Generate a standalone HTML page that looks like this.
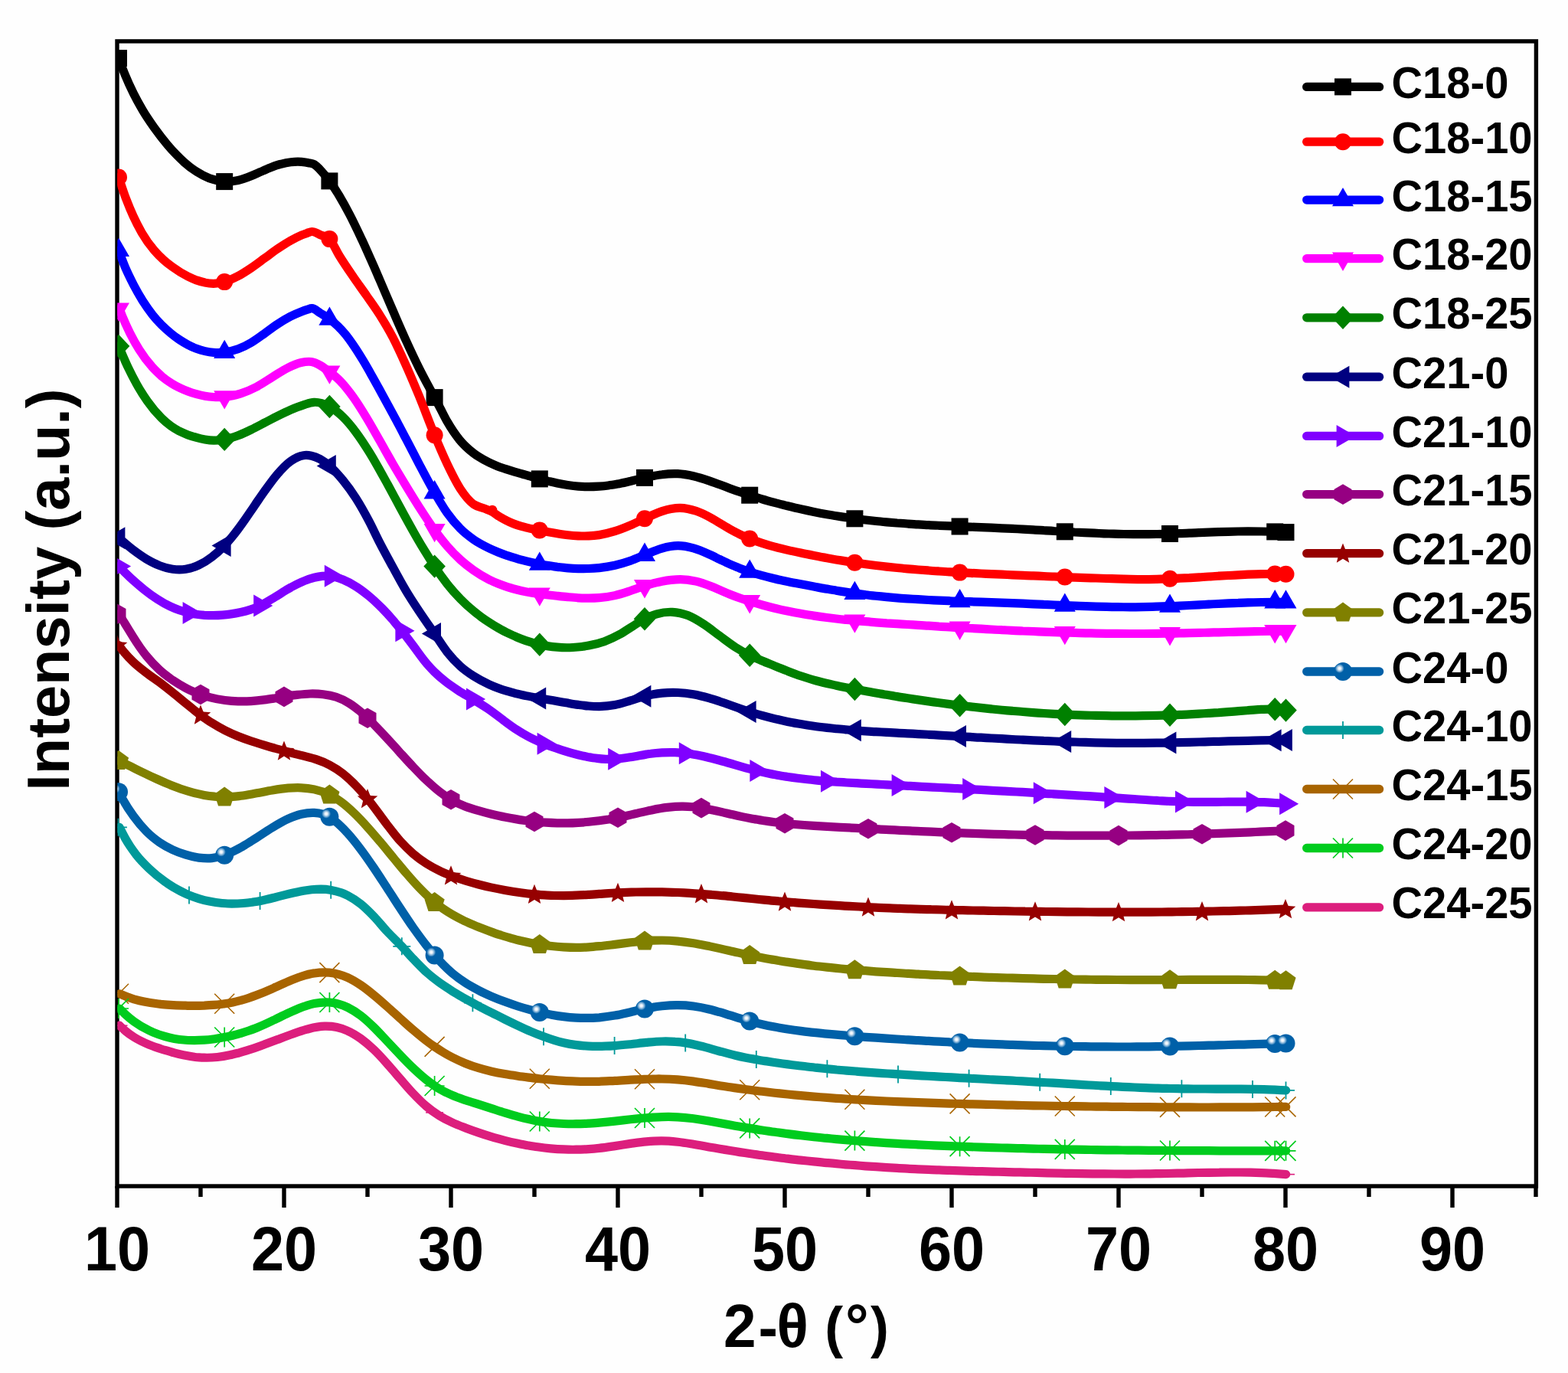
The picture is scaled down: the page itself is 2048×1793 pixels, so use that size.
<!DOCTYPE html>
<html lang="en"><head><meta charset="utf-8"><title>XRD patterns</title>
<style>html,body{margin:0;padding:0;background:#fefefe}body{width:2048px;height:1793px;overflow:hidden}svg{display:block}text{font-family:"Liberation Sans",Arial,Helvetica,sans-serif;font-weight:bold;fill:#000}</style>
</head><body>
<svg width="2048" height="1793" viewBox="0 0 2048 1793">
<defs>
<rect id="m-square" x="-11" y="-11" width="22" height="22"/>
<circle id="m-circle" r="11"/>
<polygon id="m-tri_up" points="0,-16.2 14,8.1 -14,8.1"/>
<polygon id="m-tri_down" points="0,16.2 14,-8.1 -14,-8.1"/>
<polygon id="m-diamond" points="0,-15.2 14.3,0 0,15.2 -14.3,0"/>
<polygon id="m-tri_left" points="-16.7,0 8.4,-14.5 8.4,14.5"/>
<polygon id="m-tri_right" points="16.7,0 -8.4,-14.5 -8.4,14.5"/>
<polygon id="m-hexagon" points="0,-13.3 11.5,-6.7 11.5,6.6 0,13.3 -11.5,6.7 -11.5,-6.7"/>
<polygon id="m-star" points="0,-13.2 3.6,-4.2 13.3,-3.5 5.9,2.7 8.2,12.1 0,7 -8.2,12.1 -5.9,2.7 -13.3,-3.5 -3.6,-4.2"/>
<polygon id="m-pentagon" points="0,-13.3 13.1,-3.8 8.1,11.7 -8.1,11.7 -13.1,-3.8"/>
<radialGradient id="sph" cx="0.32" cy="0.33" r="0.25" fx="0.32" fy="0.33"><stop offset="0" stop-color="#ffffff"/><stop offset="0.3" stop-color="#e4eef7"/><stop offset="0.65" stop-color="#7aaed6"/><stop offset="1" stop-color="#0060a8"/></radialGradient>
<circle id="m-sphere" r="12" fill="url(#sph)"/>
<path id="m-plus" d="M0 -11.5V11.5M-11.5 0H11.5" fill="none" stroke-width="1.8"/>
<path id="m-cross" d="M-13 -13L13 13M13 -13L-13 13" fill="none" stroke-width="1.5"/>
<path id="m-asterisk" d="M-13 -13L13 13M13 -13L-13 13M0 -13V13M-13 0H13" fill="none" stroke-width="1.7"/>
<path id="m-hline" d="M-11.5 0H11.5" fill="none" stroke-width="1.6"/>
<clipPath id="plot"><rect x="153.3" y="53.9" width="1853.4" height="1495.1"/></clipPath>
</defs>
<rect width="2048" height="1793" fill="#fefefe"/>
<g stroke="#000" stroke-width="5.4" fill="none" stroke-linecap="butt">
<rect x="153" y="53.9" width="1853.4" height="1495.1"/>
<path d="M153 1549v28M262 1549v14M371 1549v28M480 1549v14M589 1549v28M698 1549v14M807 1549v28M916 1549v14M1025 1549v28M1134 1549v14M1243 1549v28M1352 1549v14M1461 1549v28M1570 1549v14M1679 1549v28M1788 1549v14M1897 1549v28M2006 1549v14"/>
</g>
<g clip-path="url(#plot)">
<g>
<path d="M155 76C157.8 83.3 160.6 91.1 163.4 97.9C167.1 107 170.9 115.1 174.6 122.6C178.5 130.4 182.4 137.3 186.3 143.9C191.3 152.4 196.4 159.7 201.4 166.8C207.2 174.9 212.9 182.3 218.7 189.1C222.3 193.4 225.9 197.4 229.6 201.2C233.2 204.9 236.8 208.5 240.4 211.7C245.8 216.5 251.2 220.7 256.6 224.1C262.2 227.7 267.7 230.6 273.3 232.8C280.1 235.3 286.9 236.8 293.7 237.1C299.5 237.4 305.2 236.8 311 235.5C316.7 234.3 322.3 232.1 328 229.8C332.3 228.1 336.6 226 340.9 224.2C345.1 222.3 349.4 220.3 353.7 218.7C358.1 217 362.4 215.4 366.8 214.3C371.1 213.1 375.4 212.2 379.8 211.7C384.5 211.1 389.3 210.9 394 211.3C397 211.6 400 212 403 212.7C405.4 213.2 407.9 213.3 410.3 214.7C413.5 216.5 416.8 220.2 420 223.7C423.4 227.3 426.8 231.5 430.2 236.1C434.5 241.9 438.7 248.4 443 255.5C447.5 263 452.1 271.3 456.6 280C462.1 290.5 467.5 302 473 313.7C476.8 321.9 480.6 330.5 484.4 339.1C488.3 347.7 492.1 356.6 495.9 365.4C501.6 378.6 507.3 392.1 513 405.3C518.7 418.4 524.4 431.7 530.1 444.2C535.8 456.7 541.5 468.9 547.2 480.4C554 494.1 560.8 506.2 567.6 519.1C570.1 523.8 572.5 528.5 575 533.2C578.1 539 581.1 545.4 584.2 550.7C589.5 559.9 594.7 567.6 600 574.1C606.1 581.7 612.3 587 618.4 591.7C620.6 593.4 622.8 594.9 625 596.3C629.6 599.3 634.3 601.8 638.9 604.1C642.4 605.8 645.9 607.3 649.5 608.7C653 610.1 656.5 611.2 660 612.4C666.7 614.7 673.3 616.5 680 618.4C684.1 619.6 688.2 620.8 692.3 621.9C696.4 623.1 700.5 624.3 704.6 625.4C708.5 626.4 712.3 627.4 716.2 628.4C720.1 629.3 723.9 630.2 727.8 631C732.4 632 736.9 632.8 741.5 633.5C746.1 634.2 750.6 634.8 755.2 635.1C759.8 635.5 764.3 635.7 768.9 635.7C773.5 635.7 778 635.5 782.6 635.2C786.6 634.9 790.6 634.5 794.5 634C798.5 633.5 802.5 632.8 806.5 632.1C812.3 631 818.1 629.6 824 628.3C829.8 626.9 835.6 625.4 841.4 624C845.3 623.2 849.1 622.3 853 621.5C856.9 620.8 860.7 620.1 864.6 619.7C871.5 618.8 878.3 618.4 885.2 618.7C892 619.1 898.9 620.3 905.7 621.8C912.5 623.4 919.4 625.6 926.2 627.9C930.8 629.4 935.3 631.2 939.9 632.8C944.5 634.5 949 636.2 953.6 637.9C957.9 639.5 962.1 641 966.4 642.4C970.7 643.9 974.9 645.3 979.2 646.7C984.6 648.5 990 650.1 995.5 651.8C1000.9 653.4 1006.3 654.9 1011.7 656.4C1017.4 657.9 1023.1 659.4 1028.8 660.8C1034.5 662.2 1040.2 663.6 1045.9 664.8C1051.6 666.1 1057.3 667.3 1063 668.4C1068.7 669.6 1074.4 670.7 1080.1 671.7C1084.2 672.4 1088.2 673.1 1092.3 673.7C1096.4 674.4 1100.4 675 1104.5 675.6C1108.6 676.2 1112.6 676.8 1116.7 677.3C1121.3 677.9 1125.9 678.5 1130.5 679C1135 679.5 1139.6 680 1144.2 680.5C1148.8 681 1153.4 681.4 1158 681.8C1162.6 682.2 1167.2 682.6 1171.7 683C1176.3 683.3 1180.9 683.6 1185.5 684C1190.1 684.3 1194.6 684.6 1199.2 684.8C1203.7 685.1 1208.3 685.4 1212.9 685.6C1217.4 685.9 1222 686.1 1226.5 686.3C1231.1 686.5 1235.7 686.7 1240.2 686.9C1244.8 687.1 1249.3 687.3 1253.9 687.5C1258.5 687.7 1263 687.9 1267.6 688.1C1272.1 688.2 1276.7 688.4 1281.3 688.6C1285.8 688.8 1290.4 689 1294.9 689.2C1299.5 689.4 1304.1 689.6 1308.6 689.8C1313.2 690 1317.7 690.2 1322.3 690.4C1326.9 690.6 1331.4 690.9 1336 691.1C1340.5 691.4 1345.1 691.6 1349.7 691.9C1354.2 692.1 1358.8 692.4 1363.3 692.7C1367.9 692.9 1372.5 693.2 1377 693.5C1381.6 693.7 1386.1 694 1390.7 694.3C1395 694.5 1399.2 694.7 1403.5 695C1407.8 695.2 1412.1 695.4 1416.3 695.6C1420.6 695.8 1424.9 696 1429.2 696.2C1433.5 696.4 1437.7 696.6 1442 696.8C1446.3 696.9 1450.5 697.1 1454.8 697.2C1459.1 697.3 1463.4 697.4 1467.7 697.5C1471.9 697.6 1476.2 697.6 1480.5 697.7C1484.8 697.7 1489 697.7 1493.3 697.7C1499.1 697.7 1504.9 697.6 1510.8 697.5C1516.6 697.4 1522.4 697.2 1528.2 697C1532.4 696.9 1536.6 696.8 1540.8 696.6C1545.1 696.5 1549.3 696.3 1553.5 696.1C1557.7 696 1561.9 695.8 1566.2 695.6C1570.4 695.5 1574.6 695.3 1578.8 695.2C1583.1 695 1587.3 694.9 1591.6 694.7C1595.9 694.6 1600.2 694.4 1604.4 694.3C1608.7 694.2 1613 694.1 1617.3 694C1621.5 694 1625.8 693.9 1630.1 693.9C1635.9 693.9 1641.7 693.9 1647.5 694C1653.4 694 1659.2 694.2 1665 694.4C1669.9 694.6 1674.8 694.9 1679.7 695.1" fill="none" stroke="#000000" stroke-width="11.2" stroke-linecap="round" stroke-linejoin="round"/>
<use href="#m-square" x="155" y="76" fill="#000000"/>
<use href="#m-square" x="293.2" y="237.1" fill="#000000"/>
<use href="#m-square" x="430.4" y="236.4" fill="#000000"/>
<use href="#m-square" x="567.6" y="519.1" fill="#000000"/>
<use href="#m-square" x="704.8" y="625.4" fill="#000000"/>
<use href="#m-square" x="842" y="623.9" fill="#000000"/>
<use href="#m-square" x="979.2" y="646.7" fill="#000000"/>
<use href="#m-square" x="1116.4" y="677.3" fill="#000000"/>
<use href="#m-square" x="1253.6" y="687.5" fill="#000000"/>
<use href="#m-square" x="1390.8" y="694.3" fill="#000000"/>
<use href="#m-square" x="1528" y="697" fill="#000000"/>
<use href="#m-square" x="1665.2" y="694.4" fill="#000000"/>
<use href="#m-square" x="1679.5" y="695.1" fill="#000000"/>
</g>
<g>
<path d="M155 231.5C158.2 240.8 161.3 250.8 164.5 259.3C167.7 267.7 170.8 275.2 174 282.2C177.7 290.4 181.5 297.4 185.2 303.9C190.6 313.2 196 320.5 201.4 326.9C205.3 331.5 209.2 335.3 213.1 338.9C217 342.5 220.9 345.5 224.8 348.3C231.7 353.4 238.5 357.6 245.4 361C249.1 362.9 252.9 364.5 256.6 365.9C260.3 367.2 264.1 368.4 267.8 369.1C271.5 369.9 275.2 370.3 278.9 370.3C283.6 370.2 288.3 369.4 293 368.1C299 366.5 304.9 363.7 310.9 360.6C316.6 357.6 322.3 353.8 328 350C333.7 346.2 339.4 341.8 345.1 337.6C350.8 333.5 356.5 329.1 362.2 325.2C367.9 321.4 373.6 317.6 379.3 314.4C384.3 311.6 389.3 309 394.3 306.9C396.5 306 398.8 305.2 401 304.4C403.1 303.7 405.3 302.6 407.4 302.5C411.1 302.3 414.8 305.2 418.5 306.7C422.4 308.3 426.3 307.9 430.2 311.9C434.6 316.4 439 327.2 443.4 334.3C449.5 344.2 455.6 353 461.7 361.9C467.4 370.2 473.1 377.9 478.8 386.1C484.5 394.3 490.2 402 495.9 411.1C501.6 420.2 507.3 429.6 513 440.5C518.7 451.5 524.4 464 530.1 476.7C535.8 489.4 541.5 502.9 547.2 516.7C554 533.2 560.8 551.9 567.6 568.2C573.1 581.5 578.7 594.6 584.2 606.2C589.9 618.1 595.6 629.8 601.3 638.5C607 647.2 612.7 654.1 618.4 658.4C623 661.7 627.5 662 632.1 663.9C635.3 665.2 638.5 666.1 641.7 667.7C645.3 669.6 649 672.6 652.6 674.8C658.3 678.1 664 681.2 669.7 683.5C675.4 685.9 681.1 687.3 686.8 688.8C692.7 690.4 698.7 691.3 704.6 692.5C708.5 693.3 712.3 694 716.2 694.7C720.1 695.4 723.9 696.1 727.8 696.7C732.4 697.5 736.9 698.1 741.5 698.7C746.1 699.2 750.6 699.6 755.2 699.8C759.8 700 764.3 700.1 768.9 699.9C773.5 699.7 778 699.3 782.6 698.6C789.4 697.5 796.3 695.8 803.1 693.7C809.9 691.6 816.8 688.8 823.6 685.9C829.5 683.3 835.5 680.2 841.4 677.5C845.3 675.7 849.1 673.8 853 672.2C856.9 670.5 860.7 668.9 864.6 667.6C868.6 666.3 872.6 665.1 876.6 664.4C880.6 663.7 884.6 663.2 888.6 663.3C895.4 663.4 902.3 665 909.1 667.3C915.9 669.5 922.8 673.1 929.6 676.9C933.6 679.1 937.6 681.6 941.6 684C945.6 686.4 949.6 688.9 953.6 691.1C957.9 693.5 962.1 695.8 966.4 697.8C970.7 699.9 974.9 701.7 979.2 703.5C984.6 705.7 990 707.6 995.5 709.4C1000.9 711.2 1006.3 712.8 1011.7 714.2C1017.4 715.8 1023.1 717.1 1028.8 718.4C1034.5 719.7 1040.2 720.9 1045.9 722.1C1051.6 723.3 1057.3 724.4 1063 725.5C1068.7 726.6 1074.4 727.7 1080.1 728.7C1084.2 729.5 1088.2 730.2 1092.3 730.9C1096.4 731.6 1100.4 732.2 1104.5 732.9C1108.6 733.5 1112.6 734.2 1116.7 734.8C1121.3 735.4 1125.9 736.1 1130.5 736.7C1135 737.3 1139.6 737.9 1144.2 738.5C1148.8 739 1153.4 739.6 1158 740.1C1162.6 740.6 1167.2 741 1171.7 741.5C1176.3 742 1180.9 742.4 1185.5 742.8C1190.1 743.2 1194.6 743.6 1199.2 744C1203.7 744.3 1208.3 744.7 1212.9 745C1217.4 745.4 1222 745.7 1226.5 746C1231.1 746.3 1235.7 746.6 1240.2 746.8C1244.8 747.1 1249.3 747.4 1253.9 747.6C1258.5 747.9 1263 748.1 1267.6 748.3C1272.1 748.6 1276.7 748.8 1281.3 749C1285.8 749.2 1290.4 749.4 1294.9 749.6C1299.5 749.8 1304.1 750 1308.6 750.2C1313.2 750.4 1317.7 750.6 1322.3 750.8C1326.9 751 1331.4 751.2 1336 751.4C1340.5 751.6 1345.1 751.8 1349.7 751.9C1354.2 752.1 1358.8 752.3 1363.3 752.5C1367.9 752.7 1372.5 752.9 1377 753C1381.6 753.2 1386.1 753.4 1390.7 753.6C1395.3 753.7 1399.8 753.9 1404.4 754.1C1408.9 754.3 1413.5 754.4 1418.1 754.6C1422.6 754.7 1427.2 754.9 1431.7 755C1436.3 755.2 1440.9 755.3 1445.4 755.5C1450 755.6 1454.5 755.8 1459.1 755.9C1464.8 756.1 1470.5 756.2 1476.2 756.4C1481.9 756.5 1487.6 756.6 1493.3 756.6C1499.1 756.6 1504.9 756.5 1510.8 756.4C1516.6 756.2 1522.4 756.1 1528.2 755.8C1532.4 755.7 1536.6 755.5 1540.8 755.2C1545.1 755 1549.3 754.8 1553.5 754.6C1557.7 754.3 1561.9 754.1 1566.2 753.8C1570.4 753.6 1574.6 753.3 1578.8 753C1583.1 752.8 1587.3 752.5 1591.6 752.2C1595.9 752 1600.2 751.7 1604.4 751.5C1608.7 751.2 1613 751 1617.3 750.8C1621.5 750.6 1625.8 750.4 1630.1 750.2C1635.9 750 1641.7 749.8 1647.5 749.7C1653.4 749.6 1659.2 749.5 1665 749.5C1669.9 749.5 1674.8 749.6 1679.7 749.7" fill="none" stroke="#ff0000" stroke-width="11.2" stroke-linecap="round" stroke-linejoin="round"/>
<use href="#m-circle" x="155" y="231.5" fill="#ff0000"/>
<use href="#m-circle" x="293.2" y="368.1" fill="#ff0000"/>
<use href="#m-circle" x="430.4" y="312.1" fill="#ff0000"/>
<use href="#m-circle" x="567.6" y="568.2" fill="#ff0000"/>
<use href="#m-circle" x="704.8" y="692.5" fill="#ff0000"/>
<use href="#m-circle" x="842" y="677.2" fill="#ff0000"/>
<use href="#m-circle" x="979.2" y="703.5" fill="#ff0000"/>
<use href="#m-circle" x="1116.4" y="734.7" fill="#ff0000"/>
<use href="#m-circle" x="1253.6" y="747.6" fill="#ff0000"/>
<use href="#m-circle" x="1390.8" y="753.6" fill="#ff0000"/>
<use href="#m-circle" x="1528" y="755.8" fill="#ff0000"/>
<use href="#m-circle" x="1665.2" y="749.5" fill="#ff0000"/>
<use href="#m-circle" x="1679.5" y="749.7" fill="#ff0000"/>
<circle cx="643" cy="666" r="6.3" fill="#ff0000"/>
</g>
<g>
<path d="M155 327C157.6 333.9 160.3 341.3 162.9 347.7C166.8 357.1 170.7 364.7 174.6 372.3C178.5 379.8 182.4 386.5 186.3 392.8C190.6 399.6 194.8 405.5 199.1 410.9C203.1 416 207.1 420.3 211.1 424.4C215.1 428.4 219.1 431.9 223.1 435.2C226.8 438.3 230.5 441 234.2 443.5C238 446 241.7 448.2 245.4 450.2C249.1 452.2 252.9 453.8 256.6 455.3C260.3 456.7 264.1 457.8 267.8 458.6C271.5 459.5 275.2 460.1 278.9 460.3C283.7 460.7 288.5 460.6 293.3 460C299.2 459.3 305 457.9 310.9 455.8C316.6 453.7 322.3 450.9 328 447.5C333.7 444.2 339.4 439.8 345.1 435.8C350.8 431.8 356.5 427.2 362.2 423.5C367.9 419.7 373.6 416.3 379.3 413.3C384.3 410.8 389.3 408.6 394.3 406.7C396.5 405.9 398.8 405.1 401 404.4C403.1 403.8 405.3 402.5 407.4 402.6C411.1 402.7 414.8 406.8 418.5 409C422.4 411.4 426.3 413.5 430.2 416.4C437.2 421.6 444.1 427.9 451.1 436.5C454.9 441.2 458.8 446.7 462.6 452.4C466.5 458.1 470.3 464.3 474.2 470.7C477.8 476.7 481.4 483 485 489.4C488.7 495.8 492.3 502.4 495.9 509C501.6 519.4 507.3 529.8 513 540.4C515.3 544.8 517.7 549.1 520 553.5C523.4 559.8 526.7 566.2 530.1 572.7C533.4 579 536.7 585.4 540 591.7C542.4 596.3 544.8 601 547.2 605.6C554 618.5 560.8 631.6 567.6 643.3C571.7 650.5 575.9 657.5 580 663.8C581.4 665.9 582.8 668 584.2 670C589.9 678.1 595.6 684.6 601.3 690.4C607 696.1 612.7 700.4 618.4 704.5C625.2 709.3 632.1 712.7 638.9 716C642.9 717.9 646.9 719.6 650.9 721.2C654.9 722.8 658.9 724.3 662.9 725.7C666.9 727 670.9 728.3 674.8 729.4C678.8 730.6 682.8 731.6 686.8 732.6C692.7 734.1 698.7 735.4 704.6 736.5C708.5 737.3 712.3 738 716.2 738.6C720.1 739.3 723.9 739.8 727.8 740.4C732.4 740.9 736.9 741.5 741.5 741.8C746.1 742.2 750.6 742.5 755.2 742.6C759.8 742.7 764.3 742.7 768.9 742.5C773.5 742.4 778 742.1 782.6 741.6C789.4 740.8 796.3 739.7 803.1 738.2C809.9 736.6 816.8 734.6 823.6 732.2C829.5 730.1 835.5 727.4 841.4 725C845.3 723.4 849.1 721.7 853 720.2C856.9 718.8 860.7 717.3 864.6 716.2C871.5 714.2 878.3 712.7 885.2 712.7C892 712.6 898.9 714 905.7 715.9C912.5 717.7 919.4 720.8 926.2 723.9C930.8 725.9 935.3 728.2 939.9 730.4C944.5 732.6 949 734.8 953.6 736.9C957.9 738.7 962.1 740.5 966.4 742.2C970.7 743.8 974.9 745.3 979.2 746.7C984.6 748.5 990 750.1 995.5 751.6C1000.9 753.1 1006.3 754.4 1011.7 755.7C1017.4 757.1 1023.1 758.3 1028.8 759.4C1034.5 760.6 1040.2 761.7 1045.9 762.8C1051.6 763.9 1057.3 765 1063 766.1C1068.7 767.1 1074.4 768.2 1080.1 769.1C1084.2 769.9 1088.2 770.5 1092.3 771.2C1096.4 771.9 1100.4 772.5 1104.5 773.1C1108.6 773.8 1112.6 774.4 1116.7 774.9C1121.3 775.5 1125.9 776.1 1130.5 776.7C1135 777.3 1139.6 777.8 1144.2 778.3C1148.8 778.7 1153.4 779.2 1158 779.6C1162.6 780 1167.2 780.4 1171.7 780.8C1176.3 781.2 1180.9 781.5 1185.5 781.8C1190.1 782.1 1194.6 782.4 1199.2 782.7C1203.7 783 1208.3 783.2 1212.9 783.5C1217.4 783.7 1222 783.9 1226.5 784.1C1231.1 784.3 1235.7 784.5 1240.2 784.7C1244.8 784.9 1249.3 785.1 1253.9 785.2C1258.5 785.4 1263 785.6 1267.6 785.7C1272.1 785.9 1276.7 786 1281.3 786.2C1285.8 786.3 1290.4 786.5 1294.9 786.6C1299.5 786.8 1304.1 786.9 1308.6 787.1C1313.2 787.3 1317.7 787.4 1322.3 787.6C1326.9 787.8 1331.4 788 1336 788.2C1340.5 788.4 1345.1 788.6 1349.7 788.8C1354.2 789 1358.8 789.2 1363.3 789.4C1367.9 789.6 1372.5 789.8 1377 790C1381.6 790.2 1386.1 790.4 1390.7 790.6C1395.3 790.8 1399.8 791 1404.4 791.2C1408.9 791.3 1413.5 791.5 1418.1 791.7C1422.6 791.8 1427.2 792 1431.7 792.1C1436.3 792.2 1440.9 792.3 1445.4 792.4C1450 792.5 1454.5 792.6 1459.1 792.7C1464.8 792.7 1470.5 792.8 1476.2 792.8C1481.9 792.8 1487.6 792.7 1493.3 792.6C1499.1 792.6 1504.9 792.4 1510.8 792.2C1516.6 792.1 1522.4 791.9 1528.2 791.6C1532.4 791.5 1536.6 791.3 1540.8 791.1C1545.1 790.9 1549.3 790.7 1553.5 790.5C1557.7 790.3 1561.9 790 1566.2 789.8C1570.4 789.6 1574.6 789.4 1578.8 789.2C1583.1 788.9 1587.3 788.7 1591.6 788.5C1595.9 788.3 1600.2 788.1 1604.4 787.9C1608.7 787.7 1613 787.5 1617.3 787.4C1621.5 787.2 1625.8 787 1630.1 786.9C1635.9 786.7 1641.7 786.6 1647.5 786.5C1653.4 786.4 1659.2 786.3 1665 786.3C1669.9 786.3 1674.8 786.4 1679.7 786.4" fill="none" stroke="#0000ff" stroke-width="11.2" stroke-linecap="round" stroke-linejoin="round"/>
<use href="#m-tri_up" x="155" y="327" fill="#0000ff"/>
<use href="#m-tri_up" x="293.2" y="460" fill="#0000ff"/>
<use href="#m-tri_up" x="430.4" y="416.6" fill="#0000ff"/>
<use href="#m-tri_up" x="567.6" y="643.3" fill="#0000ff"/>
<use href="#m-tri_up" x="704.8" y="736.6" fill="#0000ff"/>
<use href="#m-tri_up" x="842" y="724.8" fill="#0000ff"/>
<use href="#m-tri_up" x="979.2" y="746.7" fill="#0000ff"/>
<use href="#m-tri_up" x="1116.4" y="774.9" fill="#0000ff"/>
<use href="#m-tri_up" x="1253.6" y="785.2" fill="#0000ff"/>
<use href="#m-tri_up" x="1390.8" y="790.6" fill="#0000ff"/>
<use href="#m-tri_up" x="1528" y="791.6" fill="#0000ff"/>
<use href="#m-tri_up" x="1665.2" y="786.3" fill="#0000ff"/>
<use href="#m-tri_up" x="1679.5" y="786.4" fill="#0000ff"/>
</g>
<g>
<path d="M156 403.5C157.2 406.4 158.3 409.4 159.5 412.3C162.9 420.5 166.2 427.8 169.6 434.7C173.7 442.9 177.7 450 181.8 456.5C187.6 465.8 193.3 473.1 199.1 479.6C203.3 484.3 207.5 488.1 211.6 491.7C215.8 495.2 220 498.1 224.2 500.7C227.7 502.9 231.3 504.8 234.8 506.5C238.3 508.2 241.9 509.7 245.4 511C249.1 512.4 252.9 513.7 256.6 514.7C260.3 515.7 264.1 516.6 267.8 517.2C271.5 517.9 275.2 518.3 278.9 518.5C283.7 518.8 288.5 518.7 293.3 518.3C296.9 518 300.4 517.4 304 516.7C307.5 516 311.1 515 314.6 513.9C321.5 511.7 328.3 508.7 335.2 505.1C342 501.5 348.9 496.7 355.7 492.5C362.5 488.4 369.4 483.5 376.2 480.2C381.9 477.4 387.6 474.7 393.3 473.5C397.9 472.5 402.4 471.8 407 472.5C414.7 473.7 422.5 479.8 430.2 485.5C435 489.1 439.8 492.8 444.6 497.8C450.3 503.7 456 511.1 461.7 519C467.4 527 473.1 536.2 478.8 545.6C484.5 555 490.2 565.3 495.9 575.3C501.6 585.3 507.3 595.7 513 605.5C518.7 615.3 524.4 624.7 530.1 634.1C535.8 643.5 541.5 652.8 547.2 661.7C554 672.3 560.8 682.8 567.6 692.1C573.1 699.7 578.7 707 584.2 713.4C589.9 720 595.6 725.8 601.3 731C607 736.2 612.7 740.6 618.4 744.6C625.2 749.5 632.1 753.4 638.9 756.9C642.9 758.9 646.9 760.7 650.9 762.3C654.9 763.9 658.9 765.3 662.9 766.6C666.9 767.9 670.9 769 674.8 770C678.8 771 682.8 771.9 686.8 772.7C692.7 773.9 698.7 774.8 704.6 775.6C708.5 776.1 712.3 776.6 716.2 777C720.1 777.5 723.9 777.9 727.8 778.3C732.4 778.8 736.9 779.3 741.5 779.7C746.1 780.1 750.6 780.5 755.2 780.8C759.8 781 764.3 781.2 768.9 781.2C773.5 781.2 778 781.1 782.6 780.7C789.4 780.1 796.3 779.1 803.1 777.6C809.9 776.1 816.8 773.7 823.6 771.5C829.5 769.5 835.5 767.2 841.4 765.4C845.3 764.1 849.1 762.9 853 761.9C856.9 760.9 860.7 759.9 864.6 759.2C868.6 758.4 872.6 757.8 876.6 757.4C880.6 757 884.6 756.7 888.6 756.7C895.4 756.8 902.3 757.6 909.1 759.1C915.9 760.6 922.8 763.3 929.6 766C933.6 767.5 937.6 769.4 941.6 771.1C945.6 772.8 949.6 774.6 953.6 776.2C957.9 777.9 962.1 779.5 966.4 781C970.7 782.5 974.9 783.9 979.2 785.2C984.6 786.9 990 788.5 995.5 790C1000.9 791.5 1006.3 792.9 1011.7 794.2C1017.4 795.6 1023.1 796.8 1028.8 798C1034.5 799.2 1040.2 800.3 1045.9 801.3C1051.6 802.3 1057.3 803.3 1063 804.1C1068.7 805 1074.4 805.8 1080.1 806.5C1084.2 807.1 1088.2 807.6 1092.3 808C1096.4 808.5 1100.4 808.9 1104.5 809.4C1108.6 809.8 1112.6 810.2 1116.7 810.5C1121.3 811 1125.9 811.4 1130.5 811.7C1135 812.1 1139.6 812.5 1144.2 812.8C1148.8 813.1 1153.4 813.5 1158 813.8C1162.6 814.1 1167.2 814.4 1171.7 814.7C1176.3 815 1180.9 815.2 1185.5 815.5C1190.1 815.8 1194.6 816.1 1199.2 816.4C1203.7 816.7 1208.3 817 1212.9 817.2C1217.4 817.5 1222 817.8 1226.5 818.1C1231.1 818.3 1235.7 818.6 1240.2 818.9C1244.8 819.2 1249.3 819.4 1253.9 819.7C1258.5 820 1263 820.2 1267.6 820.5C1272.1 820.7 1276.7 821 1281.3 821.2C1285.8 821.5 1290.4 821.7 1294.9 822C1299.5 822.2 1304.1 822.4 1308.6 822.7C1313.2 822.9 1317.7 823.1 1322.3 823.3C1326.9 823.5 1331.4 823.7 1336 824C1340.5 824.2 1345.1 824.3 1349.7 824.5C1354.2 824.7 1358.8 824.9 1363.3 825.1C1367.9 825.3 1372.5 825.4 1377 825.6C1381.6 825.7 1386.1 825.9 1390.7 826C1395.3 826.2 1399.8 826.3 1404.4 826.4C1408.9 826.6 1413.5 826.7 1418.1 826.8C1422.6 826.9 1427.2 827 1431.7 827.1C1436.3 827.1 1440.9 827.2 1445.4 827.3C1450 827.3 1454.5 827.4 1459.1 827.4C1464.8 827.5 1470.5 827.5 1476.2 827.5C1481.9 827.5 1487.6 827.5 1493.3 827.5C1499.1 827.5 1504.9 827.4 1510.8 827.4C1516.6 827.3 1522.4 827.2 1528.2 827.2C1532.4 827.1 1536.6 827 1540.8 826.9C1545.1 826.9 1549.3 826.8 1553.5 826.7C1557.7 826.6 1561.9 826.5 1566.2 826.4C1570.4 826.3 1574.6 826.2 1578.8 826.1C1583.1 826 1587.3 825.9 1591.6 825.8C1595.9 825.7 1600.2 825.6 1604.4 825.5C1608.7 825.4 1613 825.2 1617.3 825.1C1621.5 825 1625.8 824.9 1630.1 824.8C1635.9 824.7 1641.7 824.6 1647.5 824.5C1653.4 824.4 1659.2 824.3 1665 824.2C1669.9 824.1 1674.8 824.1 1679.7 824" fill="none" stroke="#ff00ff" stroke-width="11.2" stroke-linecap="round" stroke-linejoin="round"/>
<use href="#m-tri_down" x="155" y="403.5" fill="#ff00ff"/>
<use href="#m-tri_down" x="293.2" y="518.3" fill="#ff00ff"/>
<use href="#m-tri_down" x="430.4" y="485.6" fill="#ff00ff"/>
<use href="#m-tri_down" x="567.6" y="692.1" fill="#ff00ff"/>
<use href="#m-tri_down" x="704.8" y="775.6" fill="#ff00ff"/>
<use href="#m-tri_down" x="842" y="765.2" fill="#ff00ff"/>
<use href="#m-tri_down" x="979.2" y="785.2" fill="#ff00ff"/>
<use href="#m-tri_down" x="1116.4" y="810.5" fill="#ff00ff"/>
<use href="#m-tri_down" x="1253.6" y="819.7" fill="#ff00ff"/>
<use href="#m-tri_down" x="1390.8" y="826" fill="#ff00ff"/>
<use href="#m-tri_down" x="1528" y="827.2" fill="#ff00ff"/>
<use href="#m-tri_down" x="1665.2" y="824.2" fill="#ff00ff"/>
<use href="#m-tri_down" x="1679.5" y="824" fill="#ff00ff"/>
</g>
<g>
<path d="M155 452C159.1 461.3 163.2 471.3 167.3 479.9C171 487.7 174.8 494.9 178.5 501.6C183.1 509.8 187.8 517.2 192.4 523.8C198.5 532.5 204.7 539.8 210.8 545.8C214.9 549.9 219 553.3 223.1 556.3C226.8 559 230.5 561.1 234.2 563.1C238 565 241.7 566.5 245.4 567.9C249.1 569.3 252.9 570.4 256.6 571.4C260.3 572.5 264.1 573.4 267.8 574C271.5 574.6 275.2 575.1 278.9 575.2C283.7 575.3 288.5 574.8 293.3 573.9C299.2 572.8 305 570.9 310.9 568.7C316.6 566.6 322.3 563.9 328 561.1C333.7 558.4 339.4 555.3 345.1 552.3C350.8 549.4 356.5 546.3 362.2 543.4C367.9 540.6 373.6 537.8 379.3 535.3C385 532.9 390.7 530.6 396.4 528.8C401 527.4 405.5 525.5 410.1 525.3C416.8 525 423.4 527.2 430.1 530.8C436 533.9 441.8 538.6 447.7 544.3C453.4 549.8 459.1 556.7 464.8 564.3C470.5 571.9 476.2 580.6 481.9 589.8C484.6 594.1 487.3 598.7 490 603.3C495.4 612.6 500.8 622.5 506.2 632.3C511.9 642.7 517.6 653.6 523.3 664C529 674.4 534.7 684.9 540.4 694.9C544.9 702.9 549.5 710.7 554 718.2C558.5 725.6 563.1 732.9 567.6 739.6C573.1 747.9 578.7 755.7 584.2 762.7C589.9 769.9 595.6 776.3 601.3 782.1C607 788 612.7 793.1 618.4 797.8C622 800.8 625.6 803.5 629.2 806.2C632.8 808.8 636.4 811.2 640 813.5C643.8 816 647.6 818.3 651.5 820.5C655.3 822.6 659.1 824.7 662.9 826.6C666.9 828.5 670.9 830.4 674.8 832C678.8 833.7 682.8 835.2 686.8 836.6C692.8 838.6 698.8 840.3 704.8 841.7C708.6 842.6 712.5 843.3 716.3 843.9C720.1 844.5 724 844.9 727.8 845.2C734.7 845.8 741.5 845.9 748.4 845.5C752.3 845.3 756.1 845 760 844.5C763 844.1 765.9 843.7 768.9 843.1C775.7 841.8 782.6 840.1 789.4 837.7C796.2 835.2 803.1 832 809.9 828.2C815.6 825 821.3 820.9 827 817.4C831.8 814.4 836.6 811.1 841.4 808.6C846.9 805.8 852.3 803.4 857.8 801.9C864.6 799.9 871.5 799 878.3 799.3C885.1 799.6 892 801.2 898.8 803.8C905.7 806.5 912.5 810.8 919.4 815.3C926.2 819.7 933.1 825.4 939.9 830.3C946.7 835.3 953.6 840.7 960.4 845.1C966.7 849.1 972.9 852.5 979.2 855.7C984.6 858.4 990 860.7 995.5 863C1000.9 865.3 1006.3 867.4 1011.7 869.6C1017.4 871.8 1023.1 874.2 1028.8 876.4C1034.5 878.6 1040.2 880.8 1045.9 882.7C1051.6 884.7 1057.3 886.4 1063 888.1C1068.7 889.7 1074.4 891.1 1080.1 892.5C1084.2 893.5 1088.2 894.3 1092.3 895.2C1096.4 896.1 1100.4 896.9 1104.5 897.7C1108.6 898.5 1112.6 899.3 1116.7 900C1121.3 900.9 1125.9 901.7 1130.5 902.5C1135 903.4 1139.6 904.2 1144.2 905C1148.8 905.8 1153.4 906.6 1158 907.3C1162.6 908.1 1167.2 908.9 1171.7 909.6C1176.3 910.4 1180.9 911.1 1185.5 911.8C1190.1 912.5 1194.6 913.2 1199.2 913.9C1203.7 914.6 1208.3 915.2 1212.9 915.9C1217.4 916.5 1222 917.2 1226.5 917.8C1231.1 918.4 1235.7 919 1240.2 919.6C1244.8 920.2 1249.3 920.7 1253.9 921.3C1258.5 921.9 1263 922.4 1267.6 922.9C1272.1 923.4 1276.7 923.9 1281.3 924.4C1285.8 924.9 1290.4 925.4 1294.9 925.9C1299.5 926.3 1304.1 926.8 1308.6 927.2C1313.2 927.6 1317.7 928 1322.3 928.4C1326.9 928.8 1331.4 929.2 1336 929.5C1340.5 929.9 1345.1 930.2 1349.7 930.6C1354.2 930.9 1358.8 931.2 1363.3 931.5C1367.9 931.8 1372.5 932 1377 932.3C1381.6 932.5 1386.1 932.8 1390.7 933C1395.3 933.2 1399.8 933.4 1404.4 933.6C1408.9 933.8 1413.5 933.9 1418.1 934.1C1422.6 934.2 1427.2 934.3 1431.7 934.4C1436.3 934.5 1440.9 934.6 1445.4 934.7C1450 934.8 1454.5 934.8 1459.1 934.9C1464.8 934.9 1470.5 934.9 1476.2 934.9C1481.9 934.9 1487.6 934.8 1493.3 934.7C1499.1 934.6 1504.9 934.5 1510.8 934.4C1516.6 934.2 1522.4 934 1528.2 933.8C1532.4 933.7 1536.6 933.5 1540.8 933.3C1545.1 933.2 1549.3 933 1553.5 932.8C1557.7 932.6 1561.9 932.3 1566.2 932.1C1570.4 931.9 1574.6 931.6 1578.8 931.4C1583.1 931.1 1587.3 930.8 1591.6 930.6C1595.9 930.3 1600.2 930 1604.4 929.7C1608.7 929.4 1613 929.1 1617.3 928.7C1621.5 928.4 1625.8 928 1630.1 927.7C1635.9 927.3 1641.7 926.7 1647.5 926.4C1653.4 926.2 1659.2 925.9 1665 926.2C1669.9 926.4 1674.8 927.1 1679.7 927.6" fill="none" stroke="#008000" stroke-width="11.2" stroke-linecap="round" stroke-linejoin="round"/>
<use href="#m-diamond" x="155" y="452" fill="#008000"/>
<use href="#m-diamond" x="293.2" y="573.9" fill="#008000"/>
<use href="#m-diamond" x="430.4" y="531" fill="#008000"/>
<use href="#m-diamond" x="567.6" y="739.6" fill="#008000"/>
<use href="#m-diamond" x="704.8" y="841.7" fill="#008000"/>
<use href="#m-diamond" x="842" y="808.3" fill="#008000"/>
<use href="#m-diamond" x="979.2" y="855.7" fill="#008000"/>
<use href="#m-diamond" x="1116.4" y="900" fill="#008000"/>
<use href="#m-diamond" x="1253.6" y="921.3" fill="#008000"/>
<use href="#m-diamond" x="1390.8" y="933" fill="#008000"/>
<use href="#m-diamond" x="1528" y="933.8" fill="#008000"/>
<use href="#m-diamond" x="1665.2" y="926.2" fill="#008000"/>
<use href="#m-diamond" x="1679.5" y="927.6" fill="#008000"/>
</g>
<g>
<path d="M155.4 702.7C161.7 707.9 167.9 713.6 174.2 718.3C179.9 722.6 185.6 726.7 191.3 730.1C197 733.4 202.7 736.4 208.4 738.6C214.1 740.8 219.8 742.5 225.5 743.2C231.2 744 236.9 744.1 242.6 743.2C248.3 742.3 254 740.6 259.7 737.9C265.4 735.3 271.1 731.8 276.8 727.4C282.3 723.2 287.8 718.1 293.3 712.3C296.3 709.1 299.4 705.7 302.4 702C305.2 698.6 308.1 694.9 310.9 691.1C313.8 687.3 316.6 683.2 319.5 679.2C322.3 675.2 325.2 671 328 666.9C329.7 664.3 331.5 661.8 333.2 659.2C337.2 653.4 341.1 647.5 345.1 642C350.8 634 356.5 625.9 362.2 619.3C367.9 612.8 373.6 606.6 379.3 602.5C385 598.4 390.7 595.5 396.4 594.7C399.8 594.2 403.3 594.5 406.7 595.2C410.5 596 414.2 597.5 418 599.5C422 601.7 426.1 604.7 430.1 608.2C436 613.2 441.8 619.7 447.7 626.9C453.4 633.9 459.1 641.6 464.8 650.5C470.5 659.4 476.2 669.6 481.9 680.4C486.6 689.3 491.2 699.5 495.9 708.6C501.6 719.7 507.3 730 513 740.4C518.7 750.8 524.4 761.5 530.1 771.1C535.8 780.7 541.5 789.3 547.2 797.9C554 808.2 560.8 817.7 567.6 827.6C573.1 835.6 578.7 844.6 584.2 851.7C589.9 858.9 595.6 864.9 601.3 870.1C607 875.3 612.7 879.1 618.4 882.8C625.2 887.2 632.1 890.7 638.9 893.8C642.9 895.6 646.9 897.2 650.9 898.7C654.9 900.2 658.9 901.5 662.9 902.7C666.9 903.9 670.9 904.9 674.8 905.9C678.8 906.9 682.8 907.7 686.8 908.6C692.7 909.8 698.7 910.8 704.6 911.8C708.5 912.5 712.3 913.1 716.2 913.8C720.1 914.4 723.9 915 727.8 915.7C732.4 916.5 736.9 917.3 741.5 918.1C746.1 918.9 750.6 919.7 755.2 920.4C759.8 921 764.3 921.6 768.9 922C773.5 922.4 778 922.6 782.6 922.6C789.4 922.5 796.3 921.9 803.1 920.6C809.9 919.3 816.8 916.9 823.6 914.9C829.5 913.2 835.5 910.9 841.4 909.4C845.3 908.4 849.1 907.5 853 906.8C856.9 906 860.7 905.5 864.6 905.1C871.5 904.4 878.3 904.2 885.2 904.5C892 904.8 898.9 905.6 905.7 906.8C912.5 908 919.4 909.8 926.2 911.7C930.8 913 935.3 914.5 939.9 916C944.5 917.5 949 919.1 953.6 920.7C957.9 922.2 962.1 923.7 966.4 925.2C970.7 926.7 974.9 928.1 979.2 929.5C984.6 931.2 990 932.9 995.5 934.4C1000.9 935.9 1006.3 937.3 1011.7 938.6C1017.4 940 1023.1 941.2 1028.8 942.4C1034.5 943.5 1040.2 944.6 1045.9 945.5C1051.6 946.5 1057.3 947.4 1063 948.2C1068.7 949 1074.4 949.7 1080.1 950.4C1084.2 950.8 1088.2 951.3 1092.3 951.7C1096.4 952.1 1100.4 952.5 1104.5 952.8C1108.6 953.2 1112.6 953.5 1116.7 953.8C1121.3 954.1 1125.9 954.5 1130.5 954.8C1135 955.1 1139.6 955.4 1144.2 955.6C1148.8 955.9 1153.4 956.1 1158 956.4C1162.6 956.6 1167.2 956.9 1171.7 957.1C1176.3 957.4 1180.9 957.6 1185.5 957.8C1190.1 958.1 1194.6 958.3 1199.2 958.6C1203.7 958.8 1208.3 959.1 1212.9 959.3C1217.4 959.6 1222 959.8 1226.5 960.1C1231.1 960.4 1235.7 960.6 1240.2 960.9C1244.8 961.1 1249.3 961.4 1253.9 961.7C1258.5 961.9 1263 962.2 1267.6 962.4C1272.1 962.7 1276.7 963 1281.3 963.2C1285.8 963.5 1290.4 963.7 1294.9 964C1299.5 964.2 1304.1 964.5 1308.6 964.7C1313.2 965 1317.7 965.2 1322.3 965.5C1326.9 965.7 1331.4 965.9 1336 966.2C1340.5 966.4 1345.1 966.6 1349.7 966.8C1354.2 967 1358.8 967.2 1363.3 967.4C1367.9 967.6 1372.5 967.8 1377 968C1381.6 968.2 1386.1 968.4 1390.7 968.6C1395.3 968.7 1399.8 968.9 1404.4 969C1408.9 969.2 1413.5 969.3 1418.1 969.4C1422.6 969.6 1427.2 969.7 1431.7 969.8C1436.3 969.9 1440.9 970 1445.4 970.1C1450 970.1 1454.5 970.2 1459.1 970.3C1464.8 970.3 1470.5 970.4 1476.2 970.4C1481.9 970.4 1487.6 970.4 1493.3 970.4C1499.1 970.3 1504.9 970.3 1510.8 970.2C1516.6 970.1 1522.4 970 1528.2 969.9C1532.4 969.8 1536.6 969.7 1540.8 969.6C1545.1 969.5 1549.3 969.4 1553.5 969.3C1557.7 969.2 1561.9 969.1 1566.2 969C1570.4 968.9 1574.6 968.8 1578.8 968.6C1583.1 968.5 1587.3 968.4 1591.6 968.3C1595.9 968.2 1600.2 968 1604.4 967.9C1608.7 967.8 1613 967.7 1617.3 967.6C1621.5 967.5 1625.8 967.4 1630.1 967.3C1635.9 967.1 1641.7 967 1647.5 966.9C1653.4 966.8 1659.2 966.7 1665 966.7C1669.9 966.6 1674.8 966.6 1679.7 966.6" fill="none" stroke="#000080" stroke-width="11.2" stroke-linecap="round" stroke-linejoin="round"/>
<use href="#m-tri_left" x="155" y="702.7" fill="#000080"/>
<use href="#m-tri_left" x="293.2" y="712.4" fill="#000080"/>
<use href="#m-tri_left" x="430.4" y="608.5" fill="#000080"/>
<use href="#m-tri_left" x="567.6" y="827.6" fill="#000080"/>
<use href="#m-tri_left" x="704.8" y="911.9" fill="#000080"/>
<use href="#m-tri_left" x="842" y="909.2" fill="#000080"/>
<use href="#m-tri_left" x="979.2" y="929.5" fill="#000080"/>
<use href="#m-tri_left" x="1116.4" y="953.8" fill="#000080"/>
<use href="#m-tri_left" x="1253.6" y="961.6" fill="#000080"/>
<use href="#m-tri_left" x="1390.8" y="968.6" fill="#000080"/>
<use href="#m-tri_left" x="1528" y="969.9" fill="#000080"/>
<use href="#m-tri_left" x="1665.2" y="966.7" fill="#000080"/>
<use href="#m-tri_left" x="1679.5" y="966.6" fill="#000080"/>
</g>
<g>
<path d="M155 739.5C160.3 744.7 165.7 750.2 171 755.1C176.7 760.3 182.4 765.3 188.1 769.8C193.8 774.4 199.5 778.6 205.2 782.2C210.9 785.9 216.6 789.2 222.3 791.9C226.3 793.8 230.3 795.4 234.2 796.8C238.2 798.2 242.2 799.3 246.2 800.3C253.1 801.9 259.9 802.9 266.8 803.4C270.8 803.6 274.8 803.7 278.8 803.7C282.7 803.6 286.7 803.4 290.7 803.1C293.8 802.8 296.9 802.5 300 802.1C304.9 801.4 309.7 800.6 314.6 799.5C318.8 798.6 322.9 797.5 327.1 796.1C331.3 794.7 335.4 793 339.6 791C346.1 788 352.6 783.7 359.1 779.8C364.8 776.4 370.5 772.5 376.2 769.2C377.5 768.5 378.7 767.7 380 767C384.4 764.5 388.9 762.2 393.3 760.3C399 757.8 404.7 755.7 410.4 754.3C413.9 753.5 417.5 752.8 421 752.4C424.5 752.1 428.1 751.8 431.6 752.2C437.1 752.8 442.5 754.8 448 757C453.7 759.3 459.3 762.3 465 765.9C470.7 769.5 476.3 773.8 482 778.5C487.7 783.2 493.3 788.6 499 794.3C503.3 798.7 507.7 803.5 512 808.4C513 809.5 514 810.7 515 811.9C518.3 815.8 521.7 819.8 525 824C530.1 830.4 535.3 837.3 540.4 844.2C544.9 850.2 549.5 856.9 554 862.5C556 865 558 867.4 560 869.7C562.6 872.6 565.1 875.2 567.7 877.8C572.3 882.3 576.8 886.1 581.4 889.7C587.1 894.3 592.8 898 598.5 901.7C604.7 905.8 610.8 909.1 617 912.9C623.7 917 630.3 920.9 637 925.4C643.3 929.8 649.7 934.6 656 939.4C657.3 940.4 658.7 941.4 660 942.4C665 946.1 670 949.8 675 953C680 956.3 685 959.2 690 961.9C696.7 965.5 703.3 968.4 710 971.2C714.1 972.8 718.2 974.3 722.4 975.8C726.5 977.2 730.6 978.6 734.7 979.8C741.5 982 748.4 984 755.2 985.7C759.3 986.7 763.5 987.7 767.6 988.5C771.7 989.2 775.9 989.9 780 990.4C783.8 990.9 787.6 991.2 791.4 991.3C795.1 991.5 798.9 991.4 802.7 991.3C809.7 990.9 816.6 989.8 823.6 988.7C830.4 987.7 837.3 986.2 844.1 985.1C846.1 984.8 848 984.5 850 984.3C854.9 983.6 859.7 983.2 864.6 982.9C870.3 982.6 876 982.5 881.7 982.7C886.3 982.9 890.8 983.2 895.4 983.8C900.5 984.3 905.7 985.2 910.8 986.1C915.9 987.1 921.1 988.2 926.2 989.5C931.9 990.8 937.6 992.4 943.3 994C949 995.5 954.7 997.2 960.4 998.9C965 1000.2 969.5 1001.5 974.1 1002.8C978.7 1004 983.2 1005.2 987.8 1006.4C992.4 1007.5 996.9 1008.5 1001.5 1009.5C1006 1010.5 1010.6 1011.4 1015.1 1012.2C1019.7 1013 1024.2 1013.8 1028.8 1014.5C1033.1 1015.1 1037.3 1015.7 1041.6 1016.3C1045.9 1016.9 1050.2 1017.4 1054.4 1017.8C1058.7 1018.3 1063 1018.7 1067.3 1019.1C1071.5 1019.5 1075.8 1019.9 1080.1 1020.2C1084.4 1020.6 1088.6 1020.9 1092.9 1021.2C1097.2 1021.4 1101.5 1021.7 1105.8 1022C1110 1022.2 1114.3 1022.5 1118.6 1022.7C1122.9 1022.9 1127.1 1023.2 1131.4 1023.4C1136.1 1023.6 1140.7 1023.9 1145.4 1024.1C1150 1024.4 1154.7 1024.6 1159.3 1024.9C1164 1025.1 1168.6 1025.4 1173.3 1025.6C1178.5 1025.9 1183.6 1026.2 1188.8 1026.4C1193.9 1026.7 1199.1 1027 1204.2 1027.3C1209.4 1027.5 1214.5 1027.8 1219.7 1028.1C1224.8 1028.4 1230 1028.6 1235.1 1028.9C1240.2 1029.2 1245.4 1029.5 1250.5 1029.7C1255.6 1030 1260.8 1030.3 1265.9 1030.6C1271 1030.9 1276.1 1031.1 1281.3 1031.4C1286.4 1031.7 1291.5 1032 1296.6 1032.3C1301.8 1032.6 1306.9 1032.8 1312 1033.1C1317.2 1033.4 1322.4 1033.7 1327.6 1034C1332.8 1034.3 1338.1 1034.6 1343.3 1034.9C1348.5 1035.2 1353.7 1035.5 1358.9 1035.8C1364.3 1036.2 1369.8 1036.5 1375.2 1036.8C1380.6 1037.1 1386.1 1037.5 1391.5 1037.8C1396.9 1038.1 1402.4 1038.5 1407.8 1038.8C1412.7 1039.1 1417.5 1039.4 1422.4 1039.7C1427.3 1040 1432.1 1040.3 1437 1040.6C1441.9 1041 1446.7 1041.3 1451.6 1041.6C1456.6 1041.9 1461.6 1042.2 1466.6 1042.6C1471.6 1042.9 1476.7 1043.2 1481.7 1043.5C1486.7 1043.9 1491.7 1044.2 1496.7 1044.5C1501.9 1044.9 1507.2 1045.2 1512.4 1045.5C1517.7 1045.8 1522.9 1046.2 1528.2 1046.4C1533.4 1046.7 1538.7 1046.9 1543.9 1047C1548.9 1047.2 1553.9 1047.3 1558.9 1047.3C1563.9 1047.4 1569 1047.4 1574 1047.4C1579 1047.4 1584 1047.3 1589 1047.3C1594.2 1047.3 1599.5 1047.2 1604.7 1047.2C1610 1047.2 1615.2 1047.1 1620.5 1047.1C1625.7 1047.2 1631 1047.2 1636.2 1047.3C1641 1047.4 1645.9 1047.5 1650.7 1047.7C1655.5 1047.9 1660.4 1048.1 1665.2 1048.5C1670 1048.8 1674.9 1049.3 1679.7 1049.7" fill="none" stroke="#8000ff" stroke-width="11.2" stroke-linecap="round" stroke-linejoin="round"/>
<use href="#m-tri_right" x="154.4" y="739.5" fill="#8000ff"/>
<use href="#m-tri_right" x="247" y="800.5" fill="#8000ff"/>
<use href="#m-tri_right" x="339.6" y="791" fill="#8000ff"/>
<use href="#m-tri_right" x="432.2" y="752.3" fill="#8000ff"/>
<use href="#m-tri_right" x="524.8" y="823.7" fill="#8000ff"/>
<use href="#m-tri_right" x="617.4" y="913.1" fill="#8000ff"/>
<use href="#m-tri_right" x="710" y="971.2" fill="#8000ff"/>
<use href="#m-tri_right" x="802.6" y="991.3" fill="#8000ff"/>
<use href="#m-tri_right" x="895.2" y="983.7" fill="#8000ff"/>
<use href="#m-tri_right" x="987.8" y="1006.4" fill="#8000ff"/>
<use href="#m-tri_right" x="1080.4" y="1020.2" fill="#8000ff"/>
<use href="#m-tri_right" x="1173" y="1025.6" fill="#8000ff"/>
<use href="#m-tri_right" x="1265.6" y="1030.6" fill="#8000ff"/>
<use href="#m-tri_right" x="1358.2" y="1035.8" fill="#8000ff"/>
<use href="#m-tri_right" x="1450.8" y="1041.5" fill="#8000ff"/>
<use href="#m-tri_right" x="1543.4" y="1047" fill="#8000ff"/>
<use href="#m-tri_right" x="1636" y="1047.3" fill="#8000ff"/>
<use href="#m-tri_right" x="1679.5" y="1049.7" fill="#8000ff"/>
</g>
<g>
<path d="M155 801.7C156 803.2 157 804.7 158 806.2C159.4 808.4 160.8 810.6 162.2 812.8C166.2 819.2 170.2 825.9 174.2 832.2C177.1 836.8 180.1 841.4 183 845.6C185.8 849.5 188.5 853.2 191.3 856.6C197 863.7 202.7 869.5 208.4 874.8C212.3 878.3 216.1 881.4 220 884.3C221.8 885.6 223.7 886.9 225.5 888.2C231.2 892.1 236.9 895.5 242.6 898.5C245.1 899.8 247.5 901 250 902.1C254.1 904 258.1 905.6 262.2 907C266.5 908.6 270.7 909.8 275 910.9C281.3 912.6 287.5 913.7 293.8 914.5C299.5 915.3 305.2 915.7 310.9 915.8C316.6 916 322.3 915.9 328 915.6C333.7 915.2 339.4 914.6 345.1 913.9C349.5 913.4 353.9 912.7 358.4 912C362.8 911.3 367.2 910.5 371.6 909.8C377 909 382.5 908 387.9 907.4C393.6 906.8 399.3 906.2 405 906C410.7 905.9 416.4 906 422.1 906.7C427.8 907.4 433.4 908.4 439.1 910.3C444.8 912.3 450.5 914.8 456.2 918.4C460.8 921.2 465.3 924.7 469.9 928.6C473.4 931.5 477 934.8 480.5 938.2C485.6 943.1 490.8 948.4 495.9 953.8C501.6 959.7 507.3 966 513 972.3C515.9 975.5 518.8 978.7 521.7 981.9C527.7 988.5 533.7 995.2 539.7 1001.5C545.4 1007.5 551.1 1013.4 556.8 1018.8C562.5 1024.1 568.1 1029.2 573.8 1033.7C578.9 1037.7 584.1 1041.3 589.2 1044.3C595.5 1048 601.7 1050.7 608 1053.2C613.7 1055.4 619.4 1057 625.1 1058.6C630.8 1060.3 636.5 1061.8 642.2 1063.2C647.9 1064.5 653.6 1065.8 659.3 1067C663.7 1067.9 668 1068.7 672.4 1069.4C676.8 1070.2 681.1 1070.9 685.5 1071.5C689.9 1072.1 694.2 1072.6 698.6 1073C703.5 1073.5 708.3 1073.9 713.2 1074.2C718.1 1074.5 722.9 1074.7 727.8 1074.8C732.4 1074.9 736.9 1074.9 741.5 1074.8C746.1 1074.8 750.6 1074.6 755.2 1074.3C759.8 1074.1 764.3 1073.8 768.9 1073.3C773.5 1072.9 778 1072.4 782.6 1071.8C786.7 1071.2 790.8 1070.6 794.9 1070C799 1069.3 803.1 1068.5 807.2 1067.7C811.1 1066.9 814.9 1066.1 818.8 1065.2C822.7 1064.3 826.5 1063.4 830.4 1062.5C837.3 1060.9 844.1 1059.2 851 1057.9C857.8 1056.5 864.7 1055.2 871.5 1054.4C878.3 1053.6 885.2 1053 892 1053.1C896.1 1053.1 900.2 1053.3 904.3 1053.7C908.4 1054 912.5 1054.6 916.6 1055.2C921.1 1055.9 925.5 1056.8 930 1057.7C934.4 1058.6 938.9 1059.6 943.3 1060.6C947.9 1061.6 952.4 1062.8 957 1063.8C961.6 1064.9 966.1 1065.9 970.7 1066.9C975.2 1067.9 979.8 1068.7 984.4 1069.6C988.9 1070.4 993.5 1071.1 998 1071.8C1002.6 1072.5 1007.1 1073.1 1011.7 1073.7C1016.3 1074.3 1020.8 1074.8 1025.4 1075.3C1029.6 1075.7 1033.8 1076.1 1037.9 1076.5C1042.1 1076.8 1046.3 1077.2 1050.5 1077.5C1054.6 1077.8 1058.8 1078.1 1063 1078.4C1068.7 1078.7 1074.4 1079.1 1080.1 1079.4C1085.8 1079.7 1091.5 1080 1097.2 1080.3C1101.3 1080.5 1105.4 1080.7 1109.5 1080.9C1113.6 1081.2 1117.7 1081.4 1121.8 1081.6C1125.9 1081.8 1130 1082 1134.1 1082.2C1138.7 1082.5 1143.2 1082.7 1147.8 1082.9C1152.4 1083.2 1156.9 1083.4 1161.5 1083.6C1166.1 1083.8 1170.6 1084.1 1175.2 1084.3C1179.8 1084.5 1184.3 1084.7 1188.9 1084.9C1193.5 1085.2 1198 1085.4 1202.6 1085.6C1207.1 1085.8 1211.7 1086 1216.2 1086.2C1220.8 1086.4 1225.4 1086.6 1229.9 1086.8C1234.5 1087 1239 1087.2 1243.6 1087.3C1248.2 1087.5 1252.7 1087.7 1257.3 1087.9C1261.8 1088 1266.4 1088.2 1270.9 1088.4C1275.5 1088.5 1280.1 1088.7 1284.6 1088.8C1289.2 1089 1293.7 1089.1 1298.3 1089.3C1302.8 1089.4 1307.3 1089.5 1311.8 1089.6C1316.3 1089.8 1320.8 1089.9 1325.3 1090C1329.9 1090.1 1334.4 1090.2 1338.9 1090.3C1343.4 1090.4 1347.9 1090.4 1352.4 1090.5C1357 1090.6 1361.6 1090.7 1366.2 1090.7C1370.9 1090.8 1375.5 1090.9 1380.1 1090.9C1384.7 1091 1389.3 1091 1394 1091.1C1398.6 1091.1 1403.2 1091.1 1407.8 1091.2C1412.3 1091.2 1416.8 1091.2 1421.2 1091.2C1425.7 1091.2 1430.2 1091.2 1434.7 1091.2C1439.1 1091.2 1443.6 1091.2 1448.1 1091.2C1452.5 1091.2 1457 1091.2 1461.5 1091.1C1466.1 1091.1 1470.8 1091.1 1475.4 1091C1480.1 1091 1484.7 1090.9 1489.3 1090.9C1494 1090.8 1498.6 1090.7 1503.3 1090.7C1507.9 1090.6 1512.6 1090.5 1517.2 1090.4C1521.6 1090.4 1526 1090.3 1530.5 1090.2C1534.9 1090.1 1539.3 1090 1543.7 1089.9C1548.1 1089.8 1552.5 1089.7 1557 1089.5C1561.4 1089.4 1565.8 1089.3 1570.2 1089.2C1574.9 1089 1579.6 1088.9 1584.3 1088.7C1589 1088.5 1593.7 1088.4 1598.5 1088.2C1603.2 1088 1607.9 1087.9 1612.6 1087.7C1617.3 1087.5 1622 1087.3 1626.7 1087.1C1631.1 1086.9 1635.4 1086.7 1639.8 1086.5C1644.1 1086.3 1648.5 1086.1 1652.8 1085.9C1657.2 1085.7 1661.6 1085.5 1665.9 1085.3C1670.3 1085.1 1674.6 1084.8 1679 1084.6" fill="none" stroke="#960082" stroke-width="11.2" stroke-linecap="round" stroke-linejoin="round"/>
<use href="#m-hexagon" x="153" y="801.7" fill="#960082"/>
<use href="#m-hexagon" x="262" y="907" fill="#960082"/>
<use href="#m-hexagon" x="371" y="909.9" fill="#960082"/>
<use href="#m-hexagon" x="480" y="937.7" fill="#960082"/>
<use href="#m-hexagon" x="589" y="1044.2" fill="#960082"/>
<use href="#m-hexagon" x="698" y="1073" fill="#960082"/>
<use href="#m-hexagon" x="807" y="1067.7" fill="#960082"/>
<use href="#m-hexagon" x="916" y="1055.1" fill="#960082"/>
<use href="#m-hexagon" x="1025" y="1075.2" fill="#960082"/>
<use href="#m-hexagon" x="1134" y="1082.2" fill="#960082"/>
<use href="#m-hexagon" x="1243" y="1087.3" fill="#960082"/>
<use href="#m-hexagon" x="1352" y="1090.5" fill="#960082"/>
<use href="#m-hexagon" x="1461" y="1091.1" fill="#960082"/>
<use href="#m-hexagon" x="1570" y="1089.2" fill="#960082"/>
<use href="#m-hexagon" x="1679" y="1084.6" fill="#960082"/>
</g>
<g>
<path d="M155 842.5C157.4 845.6 159.8 849 162.2 851.9C166.2 856.7 170.2 860.8 174.2 864.6C179.9 870.1 185.6 874.3 191.3 878.7C197 883.1 202.7 886.7 208.4 891C214.1 895.3 219.8 899.8 225.5 904.4C231.2 908.9 236.9 913.8 242.6 918.4C249.1 923.7 255.7 929.1 262.2 933.9C267.1 937.5 271.9 941 276.8 944.1C282.5 947.7 288.1 950.9 293.8 953.8C299.5 956.7 305.2 959.2 310.9 961.5C316.6 963.8 322.3 965.8 328 967.7C333.7 969.7 339.4 971.4 345.1 973.1C349.5 974.5 353.9 975.8 358.4 977C362.8 978.3 367.2 979.5 371.6 980.7C375.7 981.9 379.9 983 384 984.1C388.1 985.1 392.3 986.1 396.4 987.2C402.1 988.7 407.8 989.9 413.5 991.9C419.2 993.8 424.9 996 430.6 999.1C436.3 1002.1 442 1005.7 447.7 1010.1C453.4 1014.6 459.1 1019.9 464.8 1025.8C470.3 1031.4 475.7 1037.8 481.2 1044.6C485.3 1049.7 489.4 1055.2 493.5 1060.7C497.5 1066 501.5 1071.6 505.5 1076.8C511.2 1084.2 516.9 1091.7 522.6 1098.1C528.3 1104.4 534 1110 539.7 1114.9C545.4 1119.8 551.1 1123.9 556.8 1127.6C562.5 1131.2 568.1 1134.2 573.8 1137C579.2 1139.7 584.7 1141.8 590.1 1144C596.4 1146.4 602.7 1148.5 609 1150.5C614.4 1152.1 619.7 1153.6 625.1 1155C630.5 1156.4 635.8 1157.7 641.2 1158.9C647.2 1160.2 653.3 1161.4 659.3 1162.5C666.2 1163.8 673.1 1164.9 680 1165.8C686.2 1166.7 692.4 1167.4 698.6 1167.9C702.8 1168.3 707 1168.7 711.1 1168.9C715.3 1169.2 719.5 1169.3 723.7 1169.5C727.8 1169.6 732 1169.6 736.2 1169.6C741.6 1169.6 747 1169.4 752.5 1169.2C757.9 1169 763.3 1168.7 768.7 1168.4C773.3 1168.1 778 1167.8 782.6 1167.4C786.7 1167.2 790.8 1166.9 794.9 1166.6C799 1166.3 803.1 1166.1 807.2 1165.9C811.1 1165.7 814.9 1165.5 818.8 1165.3C822.7 1165.2 826.5 1165.1 830.4 1165C835 1164.9 839.5 1164.8 844.1 1164.8C848.7 1164.8 853.2 1164.8 857.8 1164.8C862.4 1164.9 866.9 1165 871.5 1165.1C876.1 1165.2 880.6 1165.4 885.2 1165.5C890.4 1165.8 895.7 1166 900.9 1166.3C906.1 1166.6 911.4 1167 916.6 1167.4C921.1 1167.7 925.5 1168.1 930 1168.5C934.4 1168.8 938.9 1169.2 943.3 1169.7C947.9 1170.1 952.4 1170.5 957 1171C961.6 1171.5 966.1 1171.9 970.7 1172.4C975.2 1172.9 979.8 1173.3 984.4 1173.8C988.9 1174.2 993.5 1174.7 998 1175.1C1002.6 1175.6 1007.1 1176 1011.7 1176.4C1016.3 1176.8 1020.8 1177.2 1025.4 1177.6C1029.6 1178 1033.8 1178.3 1037.9 1178.6C1042.1 1179 1046.3 1179.3 1050.5 1179.6C1054.6 1179.9 1058.8 1180.2 1063 1180.5C1068.7 1180.9 1074.4 1181.3 1080.1 1181.7C1085.8 1182 1091.5 1182.4 1097.2 1182.7C1101.3 1182.9 1105.4 1183.2 1109.5 1183.4C1113.6 1183.6 1117.7 1183.8 1121.8 1184C1125.9 1184.2 1130 1184.4 1134.1 1184.6C1138.7 1184.9 1143.2 1185.1 1147.8 1185.3C1152.4 1185.5 1156.9 1185.6 1161.5 1185.8C1166.1 1186 1170.6 1186.2 1175.2 1186.3C1179.8 1186.5 1184.3 1186.7 1188.9 1186.8C1193.5 1187 1198 1187.1 1202.6 1187.3C1207.1 1187.4 1211.7 1187.5 1216.2 1187.7C1220.8 1187.8 1225.4 1187.9 1229.9 1188C1234.5 1188.2 1239 1188.3 1243.6 1188.4C1248.2 1188.5 1252.7 1188.6 1257.3 1188.7C1261.8 1188.8 1266.4 1188.9 1270.9 1189C1275.5 1189.1 1280.1 1189.2 1284.6 1189.2C1289.2 1189.3 1293.7 1189.4 1298.3 1189.5C1302.8 1189.6 1307.3 1189.7 1311.8 1189.7C1316.3 1189.8 1320.8 1189.9 1325.3 1190C1329.9 1190 1334.4 1190.1 1338.9 1190.2C1343.4 1190.2 1347.9 1190.3 1352.4 1190.4C1357 1190.4 1361.6 1190.5 1366.2 1190.5C1370.9 1190.6 1375.5 1190.6 1380.1 1190.7C1384.7 1190.7 1389.3 1190.8 1394 1190.8C1398.6 1190.9 1403.2 1190.9 1407.8 1190.9C1412.3 1191 1416.8 1191 1421.2 1191C1425.7 1191.1 1430.2 1191.1 1434.7 1191.1C1439.1 1191.1 1443.6 1191.1 1448.1 1191.1C1452.5 1191.2 1457 1191.2 1461.5 1191.2C1466.1 1191.2 1470.8 1191.2 1475.4 1191.2C1480.1 1191.1 1484.7 1191.1 1489.3 1191.1C1494 1191.1 1498.6 1191.1 1503.3 1191.1C1507.9 1191 1512.6 1191 1517.2 1191C1521.6 1190.9 1526 1190.9 1530.5 1190.8C1534.9 1190.8 1539.3 1190.7 1543.7 1190.7C1548.1 1190.6 1552.5 1190.6 1557 1190.5C1561.4 1190.4 1565.8 1190.4 1570.2 1190.3C1574.9 1190.2 1579.6 1190.1 1584.3 1190C1589 1189.9 1593.7 1189.8 1598.5 1189.7C1603.2 1189.6 1607.9 1189.5 1612.6 1189.4C1617.3 1189.3 1622 1189.1 1626.7 1189C1631.1 1188.9 1635.4 1188.7 1639.8 1188.6C1644.1 1188.5 1648.5 1188.3 1652.8 1188.2C1657.2 1188 1661.6 1187.9 1665.9 1187.7C1670.3 1187.5 1674.6 1187.4 1679 1187.2" fill="none" stroke="#960000" stroke-width="11.2" stroke-linecap="round" stroke-linejoin="round"/>
<use href="#m-star" x="153" y="842.5" fill="#960000"/>
<use href="#m-star" x="262" y="933.7" fill="#960000"/>
<use href="#m-star" x="371" y="980.6" fill="#960000"/>
<use href="#m-star" x="480" y="1043.1" fill="#960000"/>
<use href="#m-star" x="589" y="1143.5" fill="#960000"/>
<use href="#m-star" x="698" y="1167.9" fill="#960000"/>
<use href="#m-star" x="807" y="1165.9" fill="#960000"/>
<use href="#m-star" x="916" y="1167.3" fill="#960000"/>
<use href="#m-star" x="1025" y="1177.6" fill="#960000"/>
<use href="#m-star" x="1134" y="1184.6" fill="#960000"/>
<use href="#m-star" x="1243" y="1188.4" fill="#960000"/>
<use href="#m-star" x="1352" y="1190.4" fill="#960000"/>
<use href="#m-star" x="1461" y="1191.2" fill="#960000"/>
<use href="#m-star" x="1570" y="1190.3" fill="#960000"/>
<use href="#m-star" x="1679" y="1187.2" fill="#960000"/>
</g>
<g>
<path d="M155 993.2C160.3 995.8 165.7 998.5 171 1001.1C176.7 1003.9 182.4 1006.8 188.1 1009.5C193.8 1012.3 199.5 1015 205.2 1017.5C210.9 1020.1 216.6 1022.6 222.3 1024.9C228 1027.1 233.7 1029.3 239.4 1031.2C244 1032.7 248.5 1034.1 253.1 1035.3C257.7 1036.5 262.2 1037.5 266.8 1038.4C271.2 1039.2 275.7 1039.8 280.1 1040.2C284.5 1040.7 289 1040.9 293.4 1040.9C296.9 1040.9 300.5 1040.7 304 1040.4C307.5 1040.2 311.1 1039.7 314.6 1039.3C321.5 1038.4 328.3 1037 335.2 1035.8C342 1034.6 348.9 1033.1 355.7 1032C362.5 1030.9 369.4 1029.8 376.2 1029.2C381.9 1028.8 387.6 1028.5 393.3 1028.8C399 1029 404.7 1029.6 410.4 1030.9C417 1032.3 423.6 1034.3 430.2 1037.6C435.3 1040.2 440.5 1043.5 445.6 1047.3C451.3 1051.5 457 1056.6 462.7 1062C468.4 1067.4 474.1 1073.6 479.8 1079.9C485.5 1086.2 491.2 1093 496.9 1099.7C502.6 1106.5 508.3 1113.6 514 1120.5C519.7 1127.3 525.4 1134.4 531.1 1140.9C536.8 1147.5 542.5 1154.1 548.2 1159.9C554.5 1166.4 560.7 1172.5 567 1177.8C571 1181.1 575 1184.1 579 1186.9C582.9 1189.6 586.9 1192.1 590.9 1194.4C595.2 1196.9 599.5 1199.1 603.8 1201.2C608 1203.3 612.3 1205.2 616.6 1207.1C620.9 1208.9 625.1 1210.7 629.4 1212.3C633.7 1214 637.9 1215.6 642.2 1217.1C646.5 1218.7 650.8 1220.1 655 1221.5C659.3 1222.8 663.6 1224.1 667.9 1225.3C672 1226.4 676.1 1227.5 680.1 1228.5C684.2 1229.4 688.3 1230.3 692.4 1231.2C696.4 1232 700.5 1232.7 704.6 1233.4C709.9 1234.2 715.1 1234.9 720.4 1235.5C725.7 1236.1 730.9 1236.5 736.2 1236.8C741.6 1237.1 747 1237.3 752.5 1237.3C757.9 1237.3 763.3 1237.1 768.7 1236.8C773.3 1236.5 778 1236.1 782.6 1235.7C789.4 1235.1 796.3 1234.2 803.1 1233.4C809.9 1232.5 816.8 1231.6 823.6 1230.8C829.5 1230.1 835.5 1229.4 841.4 1229C845.3 1228.7 849.1 1228.4 853 1228.2C856.9 1228.1 860.7 1228 864.6 1228C871.5 1228.1 878.3 1228.5 885.2 1229.1C892 1229.8 898.9 1230.7 905.7 1231.8C912.5 1232.9 919.4 1234.3 926.2 1235.6C930.8 1236.6 935.3 1237.6 939.9 1238.6C944.5 1239.6 949 1240.6 953.6 1241.7C957.9 1242.6 962.1 1243.6 966.4 1244.6C970.7 1245.5 974.9 1246.5 979.2 1247.4C984.6 1248.5 990 1249.6 995.5 1250.7C1000.9 1251.7 1006.3 1252.7 1011.7 1253.6C1017.4 1254.6 1023.1 1255.6 1028.8 1256.4C1034.5 1257.3 1040.2 1258.1 1045.9 1258.9C1051.6 1259.7 1057.3 1260.5 1063 1261.2C1068.7 1261.9 1074.4 1262.5 1080.1 1263.1C1084.2 1263.6 1088.2 1264 1092.3 1264.4C1096.4 1264.8 1100.4 1265.2 1104.5 1265.6C1108.6 1265.9 1112.6 1266.3 1116.7 1266.6C1121.3 1267 1125.9 1267.4 1130.5 1267.7C1135 1268.1 1139.6 1268.4 1144.2 1268.8C1148.8 1269.1 1153.4 1269.4 1158 1269.7C1162.6 1270 1167.2 1270.3 1171.7 1270.5C1176.3 1270.8 1180.9 1271.1 1185.5 1271.3C1190.1 1271.6 1194.6 1271.9 1199.2 1272.1C1203.7 1272.4 1208.3 1272.6 1212.9 1272.8C1217.4 1273.1 1222 1273.3 1226.5 1273.5C1231.1 1273.7 1235.7 1273.9 1240.2 1274.1C1244.8 1274.4 1249.3 1274.6 1253.9 1274.7C1258.5 1274.9 1263 1275.1 1267.6 1275.3C1272.1 1275.5 1276.7 1275.7 1281.3 1275.8C1285.8 1276 1290.4 1276.2 1294.9 1276.3C1299.5 1276.5 1304.1 1276.6 1308.6 1276.8C1313.2 1276.9 1317.7 1277.1 1322.3 1277.2C1326.9 1277.3 1331.4 1277.5 1336 1277.6C1340.5 1277.7 1345.1 1277.8 1349.7 1277.9C1354.2 1278.1 1358.8 1278.2 1363.3 1278.3C1367.9 1278.4 1372.5 1278.4 1377 1278.5C1381.6 1278.6 1386.1 1278.7 1390.7 1278.8C1395.3 1278.9 1399.8 1278.9 1404.4 1279C1408.9 1279.1 1413.5 1279.1 1418.1 1279.2C1422.6 1279.2 1427.2 1279.3 1431.7 1279.3C1436.3 1279.4 1440.9 1279.4 1445.4 1279.4C1450 1279.5 1454.5 1279.5 1459.1 1279.5C1464.8 1279.6 1470.5 1279.6 1476.2 1279.6C1481.9 1279.6 1487.6 1279.6 1493.3 1279.6C1499.1 1279.6 1504.9 1279.6 1510.8 1279.6C1516.6 1279.6 1522.4 1279.5 1528.2 1279.5C1532.4 1279.5 1536.6 1279.5 1540.8 1279.5C1545.1 1279.4 1549.3 1279.4 1553.5 1279.4C1557.7 1279.4 1561.9 1279.4 1566.2 1279.4C1570.4 1279.4 1574.6 1279.4 1578.8 1279.3C1583.1 1279.3 1587.3 1279.3 1591.6 1279.3C1595.9 1279.3 1600.2 1279.4 1604.4 1279.4C1608.7 1279.4 1613 1279.4 1617.3 1279.4C1621.5 1279.5 1625.8 1279.5 1630.1 1279.5C1635.9 1279.6 1641.7 1279.7 1647.5 1279.8C1653.4 1279.9 1659.2 1280 1665 1280.1C1669.9 1280.2 1674.8 1280.4 1679.7 1280.5" fill="none" stroke="#808000" stroke-width="11.2" stroke-linecap="round" stroke-linejoin="round"/>
<use href="#m-pentagon" x="155" y="993.2" fill="#808000"/>
<use href="#m-pentagon" x="293.2" y="1040.9" fill="#808000"/>
<use href="#m-pentagon" x="430.4" y="1037.7" fill="#808000"/>
<use href="#m-pentagon" x="567.6" y="1178.3" fill="#808000"/>
<use href="#m-pentagon" x="704.8" y="1233.4" fill="#808000"/>
<use href="#m-pentagon" x="842" y="1228.9" fill="#808000"/>
<use href="#m-pentagon" x="979.2" y="1247.4" fill="#808000"/>
<use href="#m-pentagon" x="1116.4" y="1266.6" fill="#808000"/>
<use href="#m-pentagon" x="1253.6" y="1274.7" fill="#808000"/>
<use href="#m-pentagon" x="1390.8" y="1278.8" fill="#808000"/>
<use href="#m-pentagon" x="1528" y="1279.5" fill="#808000"/>
<use href="#m-pentagon" x="1665.2" y="1280.1" fill="#808000"/>
<use href="#m-pentagon" x="1679.5" y="1280.5" fill="#808000"/>
</g>
<g>
<path d="M155 1034.2C156.7 1037.2 158.3 1040.4 160 1043.3C164.7 1051.6 169.5 1059 174.2 1065.6C179.9 1073.5 185.6 1080.2 191.3 1085.9C194.2 1088.8 197.1 1091.4 200 1093.8C202.8 1096.1 205.6 1098.2 208.4 1100.1C214.1 1104 219.8 1107 225.5 1109.7C231.2 1112.4 236.9 1114.4 242.6 1116.1C248.3 1117.8 254 1119.3 259.7 1120.1C265.4 1120.8 271.1 1121.2 276.8 1120.6C282.2 1120 287.6 1118.6 293 1116.8C296.6 1115.5 300.2 1114 303.8 1112.3C307.4 1110.6 311 1108.6 314.6 1106.6C316.4 1105.6 318.2 1104.5 320 1103.5C325.1 1100.4 330.1 1097.1 335.2 1093.9C342 1089.5 348.9 1084.8 355.7 1080.7C362.5 1076.6 369.4 1072.5 376.2 1069.4C381.9 1066.9 387.6 1064.6 393.3 1063.2C399 1061.9 404.7 1061.1 410.4 1061.4C417 1061.9 423.6 1062.8 430.2 1066.7C434.2 1069.1 438.2 1072.5 442.2 1076.1C446.2 1079.7 450.2 1083.8 454.2 1088.2C459.9 1094.5 465.6 1101.7 471.3 1109.3C477 1116.8 482.7 1125.1 488.4 1133.5C494.1 1141.9 499.8 1150.8 505.5 1159.5C511.2 1168.3 516.9 1177.3 522.6 1185.9C528.3 1194.6 534 1203.3 539.7 1211.4C545.4 1219.4 551.1 1227.3 556.8 1234.5C560.2 1238.8 563.6 1242.9 567 1246.9C571 1251.5 575 1255.8 579 1259.9C582.9 1263.9 586.9 1267.6 590.9 1271C596.6 1275.8 602.3 1279.8 608 1283.5C613.7 1287.2 619.4 1290.2 625.1 1293.2C630.8 1296.2 636.5 1298.8 642.2 1301.3C647.9 1303.7 653.6 1306 659.3 1308.1C665 1310.2 670.7 1312.2 676.4 1314C681.1 1315.5 685.8 1316.9 690.5 1318.2C695.2 1319.6 699.9 1320.8 704.6 1321.9C709.9 1323.1 715.1 1324.3 720.4 1325.2C725.7 1326.2 730.9 1327 736.2 1327.6C741.6 1328.3 747 1328.8 752.5 1329.1C757.9 1329.4 763.3 1329.5 768.7 1329.4C773.3 1329.4 778 1329.1 782.6 1328.8C789.4 1328.2 796.3 1327.3 803.1 1326.1C809.9 1324.9 816.8 1323.2 823.6 1321.7C829.5 1320.3 835.5 1318.8 841.4 1317.6C845.3 1316.8 849.1 1316.1 853 1315.4C856.9 1314.8 860.7 1314.3 864.6 1313.8C871.5 1313.1 878.3 1312.6 885.2 1312.7C892 1312.7 898.9 1313.1 905.7 1314C912.5 1314.9 919.4 1316.3 926.2 1318C930.8 1319.1 935.3 1320.4 939.9 1321.7C944.5 1323 949 1324.5 953.6 1325.9C957.9 1327.2 962.1 1328.6 966.4 1329.9C970.7 1331.1 974.9 1332.4 979.2 1333.6C984.6 1335.1 990 1336.5 995.5 1337.7C1000.9 1339 1006.3 1340.1 1011.7 1341.1C1017.4 1342.2 1023.1 1343.1 1028.8 1344C1034.5 1344.9 1040.2 1345.7 1045.9 1346.4C1051.6 1347.1 1057.3 1347.8 1063 1348.4C1068.7 1349 1074.4 1349.6 1080.1 1350.1C1084.2 1350.5 1088.2 1350.8 1092.3 1351.2C1096.4 1351.6 1100.4 1351.9 1104.5 1352.2C1108.6 1352.6 1112.6 1352.9 1116.7 1353.2C1121.3 1353.6 1125.9 1353.9 1130.5 1354.3C1135 1354.6 1139.6 1354.9 1144.2 1355.2C1148.8 1355.5 1153.4 1355.8 1158 1356.1C1162.6 1356.4 1167.2 1356.7 1171.7 1357C1176.3 1357.3 1180.9 1357.6 1185.5 1357.8C1190.1 1358.1 1194.6 1358.4 1199.2 1358.6C1203.7 1358.9 1208.3 1359.2 1212.9 1359.4C1217.4 1359.7 1222 1359.9 1226.5 1360.2C1231.1 1360.4 1235.7 1360.6 1240.2 1360.9C1244.8 1361.1 1249.3 1361.3 1253.9 1361.6C1258.5 1361.8 1263 1362 1267.6 1362.2C1272.1 1362.4 1276.7 1362.6 1281.3 1362.8C1285.8 1363 1290.4 1363.2 1294.9 1363.4C1299.5 1363.6 1304.1 1363.7 1308.6 1363.9C1313.2 1364.1 1317.7 1364.3 1322.3 1364.4C1326.9 1364.6 1331.4 1364.7 1336 1364.9C1340.5 1365 1345.1 1365.2 1349.7 1365.3C1354.2 1365.4 1358.8 1365.6 1363.3 1365.7C1367.9 1365.8 1372.5 1365.9 1377 1366C1381.6 1366.1 1386.1 1366.2 1390.7 1366.3C1395.3 1366.4 1399.8 1366.5 1404.4 1366.5C1408.9 1366.6 1413.5 1366.7 1418.1 1366.7C1422.6 1366.8 1427.2 1366.8 1431.7 1366.9C1436.3 1366.9 1440.9 1366.9 1445.4 1366.9C1450 1367 1454.5 1367 1459.1 1367C1464.8 1367 1470.5 1367 1476.2 1367C1481.9 1366.9 1487.6 1366.9 1493.3 1366.8C1499.1 1366.8 1504.9 1366.7 1510.8 1366.6C1516.6 1366.6 1522.4 1366.5 1528.2 1366.4C1532.4 1366.3 1536.6 1366.2 1540.8 1366.1C1545.1 1366 1549.3 1365.9 1553.5 1365.8C1557.7 1365.7 1561.9 1365.6 1566.2 1365.5C1570.4 1365.4 1574.6 1365.3 1578.8 1365.2C1583.1 1365.1 1587.3 1365 1591.6 1364.9C1595.9 1364.8 1600.2 1364.7 1604.4 1364.5C1608.7 1364.4 1613 1364.3 1617.3 1364.2C1621.5 1364.1 1625.8 1364 1630.1 1363.8C1635.9 1363.7 1641.7 1363.5 1647.5 1363.4C1653.4 1363.2 1659.2 1363.1 1665 1362.9C1669.9 1362.8 1674.8 1362.7 1679.7 1362.6" fill="none" stroke="#0060a8" stroke-width="11.2" stroke-linecap="round" stroke-linejoin="round"/>
<use href="#m-sphere" x="155" y="1034.2"/>
<use href="#m-sphere" x="293.2" y="1116.7"/>
<use href="#m-sphere" x="430.4" y="1066.8"/>
<use href="#m-sphere" x="567.6" y="1247.6"/>
<use href="#m-sphere" x="704.8" y="1321.9"/>
<use href="#m-sphere" x="842" y="1317.5"/>
<use href="#m-sphere" x="979.2" y="1333.6"/>
<use href="#m-sphere" x="1116.4" y="1353.2"/>
<use href="#m-sphere" x="1253.6" y="1361.5"/>
<use href="#m-sphere" x="1390.8" y="1366.3"/>
<use href="#m-sphere" x="1528" y="1366.4"/>
<use href="#m-sphere" x="1665.2" y="1362.9"/>
<use href="#m-sphere" x="1679.5" y="1362.6"/>
</g>
<g>
<path d="M156 1080.3C158.7 1085.5 161.5 1091.2 164.2 1095.9C166.1 1099.3 168.1 1102.4 170 1105.3C172.6 1109.2 175.2 1112.7 177.8 1116.1C183.5 1123.4 189.2 1129 194.9 1134.5C201.8 1141.1 208.6 1146.5 215.5 1151.4C217 1152.5 218.5 1153.5 220 1154.5C224.3 1157.4 228.7 1160 233 1162.3C237.3 1164.7 241.7 1166.7 246 1168.6C250.6 1170.5 255.2 1172.2 259.8 1173.6C264.4 1175 269 1176.2 273.6 1177.1C279.1 1178.2 284.5 1179 290 1179.5C292.5 1179.7 295 1179.9 297.5 1180C304.4 1180.2 311.2 1180 318.1 1179.5C321.8 1179.2 325.4 1178.8 329.1 1178.3C332.7 1177.7 336.4 1177.1 340 1176.4C346.4 1175.2 352.7 1173.6 359.1 1172C363.1 1171 367.1 1169.9 371.1 1168.9C375 1167.9 379 1166.9 383 1166C388.7 1164.7 394.3 1163.5 400 1162.7C402.3 1162.4 404.7 1162.1 407 1161.8C411.1 1161.4 415.2 1161.2 419.3 1161.2C423.4 1161.3 427.5 1161.6 431.6 1162.2C436.3 1163 440.9 1164.1 445.6 1165.8C448.5 1166.8 451.3 1168.1 454.2 1169.5C459.9 1172.4 465.6 1176.2 471.3 1180.7C477 1185.3 482.7 1191 488.4 1196.9C494.1 1202.8 499.8 1210.1 505.5 1216.2C511.9 1223 518.2 1228.8 524.6 1235.6C529.6 1240.9 534.7 1246.9 539.7 1252.2C545.4 1258.3 551.1 1264.3 556.8 1269.4C562.5 1274.5 568.1 1278.9 573.8 1283.1C579.5 1287.2 585.2 1290.8 590.9 1294.4C595.3 1297.1 599.7 1299.7 604.1 1302.3C608.6 1304.8 613 1307.3 617.4 1309.7C621.5 1312 625.7 1314.1 629.8 1316.3C633.9 1318.4 638.1 1320.5 642.2 1322.6C647.9 1325.5 653.6 1328.3 659.3 1331.1C665 1333.9 670.7 1336.7 676.4 1339.3C682.1 1342 687.8 1344.7 693.5 1347.1C698.9 1349.4 704.3 1351.6 709.7 1353.6C714.1 1355.3 718.5 1356.8 723 1358.1C727.4 1359.5 731.8 1360.7 736.2 1361.7C741.6 1363 747 1363.9 752.5 1364.6C757.9 1365.4 763.3 1365.8 768.7 1366.1C772.2 1366.3 775.6 1366.4 779.1 1366.4C783 1366.4 787 1366.4 790.9 1366.2C794.8 1366.1 798.8 1365.9 802.7 1365.6C809.7 1365.1 816.6 1364.4 823.6 1363.7C830.4 1363 837.3 1362 844.1 1361.4C850.9 1360.8 857.8 1360.1 864.6 1360C870.3 1359.9 876 1359.9 881.7 1360.4C886.3 1360.7 890.8 1361.2 895.4 1361.9C900.5 1362.7 905.7 1363.8 910.8 1365C915.9 1366.1 921.1 1367.5 926.2 1368.9C931.9 1370.5 937.6 1372.2 943.3 1373.7C949 1375.3 954.7 1376.9 960.4 1378.2C965 1379.3 969.5 1380.3 974.1 1381.2C978.7 1382.1 983.2 1382.8 987.8 1383.6C992.4 1384.4 996.9 1385.2 1001.5 1385.9C1006 1386.6 1010.6 1387.3 1015.1 1388C1019.7 1388.6 1024.2 1389.3 1028.8 1389.9C1033.1 1390.4 1037.3 1391 1041.6 1391.5C1045.9 1392 1050.2 1392.6 1054.4 1393C1058.7 1393.5 1063 1394 1067.3 1394.4C1071.5 1394.9 1075.8 1395.3 1080.1 1395.8C1084.4 1396.2 1088.6 1396.6 1092.9 1397C1097.2 1397.3 1101.5 1397.7 1105.8 1398.1C1110 1398.4 1114.3 1398.8 1118.6 1399.1C1122.9 1399.5 1127.1 1399.8 1131.4 1400.1C1136.1 1400.4 1140.7 1400.8 1145.4 1401.1C1150 1401.4 1154.7 1401.7 1159.3 1402C1164 1402.3 1168.6 1402.6 1173.3 1402.9C1178.5 1403.2 1183.6 1403.6 1188.8 1403.9C1193.9 1404.2 1199.1 1404.5 1204.2 1404.8C1209.4 1405.1 1214.5 1405.4 1219.7 1405.7C1224.8 1406 1230 1406.2 1235.1 1406.5C1240.2 1406.8 1245.4 1407.1 1250.5 1407.4C1255.6 1407.6 1260.8 1407.9 1265.9 1408.2C1271 1408.5 1276.1 1408.7 1281.3 1409C1286.4 1409.3 1291.5 1409.6 1296.6 1409.8C1301.8 1410.1 1306.9 1410.4 1312 1410.7C1317.2 1410.9 1322.4 1411.2 1327.6 1411.5C1332.8 1411.8 1338.1 1412.1 1343.3 1412.4C1348.5 1412.7 1353.7 1413 1358.9 1413.3C1364.3 1413.6 1369.8 1413.9 1375.2 1414.2C1380.6 1414.5 1386.1 1414.9 1391.5 1415.2C1396.9 1415.5 1402.4 1415.8 1407.8 1416.1C1412.7 1416.4 1417.5 1416.7 1422.4 1417C1427.3 1417.2 1432.1 1417.5 1437 1417.8C1441.9 1418.1 1446.7 1418.3 1451.6 1418.6C1456.6 1418.8 1461.6 1419.1 1466.6 1419.3C1471.6 1419.5 1476.7 1419.8 1481.7 1420C1486.7 1420.2 1491.7 1420.4 1496.7 1420.6C1501.9 1420.8 1507.2 1421 1512.4 1421.1C1517.7 1421.3 1522.9 1421.4 1528.2 1421.5C1533.4 1421.7 1538.7 1421.7 1543.9 1421.8C1548.9 1421.9 1553.9 1421.9 1558.9 1422C1563.9 1422 1569 1422 1574 1422C1579 1422 1584 1422 1589 1422.1C1594.2 1422.1 1599.5 1422.1 1604.7 1422.1C1610 1422.1 1615.2 1422.1 1620.5 1422.2C1625.7 1422.2 1631 1422.3 1636.2 1422.4C1641 1422.4 1645.9 1422.5 1650.7 1422.7C1655.5 1422.8 1660.4 1423 1665.2 1423.2C1670 1423.4 1674.9 1423.7 1679.7 1423.9" fill="none" stroke="#009999" stroke-width="11.2" stroke-linecap="round" stroke-linejoin="round"/>
<use href="#m-plus" x="154.4" y="1080.3" stroke="#009999"/>
<use href="#m-plus" x="247" y="1169" stroke="#009999"/>
<use href="#m-plus" x="339.6" y="1176.5" stroke="#009999"/>
<use href="#m-plus" x="432.2" y="1162.3" stroke="#009999"/>
<use href="#m-plus" x="524.8" y="1235.8" stroke="#009999"/>
<use href="#m-plus" x="617.4" y="1309.7" stroke="#009999"/>
<use href="#m-plus" x="710" y="1353.7" stroke="#009999"/>
<use href="#m-plus" x="802.6" y="1365.6" stroke="#009999"/>
<use href="#m-plus" x="895.2" y="1361.9" stroke="#009999"/>
<use href="#m-plus" x="987.8" y="1383.6" stroke="#009999"/>
<use href="#m-plus" x="1080.4" y="1395.8" stroke="#009999"/>
<use href="#m-plus" x="1173" y="1402.9" stroke="#009999"/>
<use href="#m-plus" x="1265.6" y="1408.2" stroke="#009999"/>
<use href="#m-plus" x="1358.2" y="1413.2" stroke="#009999"/>
<use href="#m-plus" x="1450.8" y="1418.5" stroke="#009999"/>
<use href="#m-plus" x="1543.4" y="1421.8" stroke="#009999"/>
<use href="#m-plus" x="1636" y="1422.4" stroke="#009999"/>
<use href="#m-plus" x="1679.5" y="1423.9" stroke="#009999"/>
</g>
<g>
<path d="M156 1297.8C161 1299.7 166 1301.9 171 1303.5C172.3 1304 173.7 1304.4 175 1304.8C179.4 1306 183.7 1307.1 188.1 1308C193.8 1309.2 199.5 1310.1 205.2 1310.8C206.8 1311 208.4 1311.2 210 1311.4C214.1 1311.8 218.2 1312.1 222.3 1312.4C228 1312.8 233.7 1313 239.4 1313.1C241.3 1313.2 243.1 1313.2 245 1313.3C248.6 1313.3 252.3 1313.3 255.9 1313.3C259.5 1313.3 263.2 1313.2 266.8 1313.1C270.7 1312.9 274.5 1312.7 278.4 1312.4C282.3 1312.1 286.1 1311.7 290 1311.2C291.1 1311 292.3 1310.9 293.4 1310.7C296.9 1310.2 300.5 1309.6 304 1308.9C307.5 1308.2 311.1 1307.3 314.6 1306.4C318.1 1305.4 321.5 1304.4 325 1303.2C328.4 1302.1 331.8 1300.9 335.2 1299.6C342 1297 348.9 1294.1 355.7 1291.1C357.1 1290.4 358.6 1289.8 360 1289.1C365.4 1286.7 370.8 1284.2 376.2 1281.9C381.9 1279.5 387.6 1277.1 393.3 1275.2C399 1273.4 404.7 1271.7 410.4 1270.9C417 1269.8 423.6 1269.5 430.2 1270.1C434.2 1270.5 438.2 1271.2 442.2 1272.3C446.2 1273.4 450.2 1274.8 454.2 1276.6C459.9 1279.2 465.6 1282.7 471.3 1286.5C477 1290.3 482.7 1294.9 488.4 1299.6C494.1 1304.2 499.8 1309.3 505.5 1314.4C511.2 1319.4 516.9 1324.8 522.6 1329.9C528.3 1335 534 1340.2 539.7 1345.1C545.4 1350 551.1 1354.8 556.8 1359.1C560.2 1361.7 563.6 1364.2 567 1366.5C571 1369.2 575 1371.8 579 1374.2C582.9 1376.6 586.9 1378.8 590.9 1380.9C596.6 1383.8 602.3 1386.4 608 1388.7C613.7 1391 619.4 1393 625.1 1394.7C630.8 1396.5 636.5 1397.9 642.2 1399.2C647.9 1400.5 653.6 1401.6 659.3 1402.6C665 1403.6 670.7 1404.4 676.4 1405.2C681.1 1405.9 685.8 1406.5 690.5 1407.1C695.2 1407.7 699.9 1408.2 704.6 1408.7C709.9 1409.3 715.1 1409.8 720.4 1410.2C725.7 1410.7 730.9 1411.1 736.2 1411.4C741.6 1411.7 747 1411.9 752.5 1412.1C757.9 1412.3 763.3 1412.4 768.7 1412.4C773.3 1412.4 778 1412.4 782.6 1412.3C789.4 1412.1 796.3 1411.7 803.1 1411.4C809.9 1411.1 816.8 1410.6 823.6 1410.2C829.5 1409.9 835.5 1409.6 841.4 1409.4C845.3 1409.2 849.1 1409.1 853 1409C856.9 1409 860.7 1408.9 864.6 1409C871.5 1409.1 878.3 1409.4 885.2 1409.9C892 1410.4 898.9 1411.2 905.7 1412.1C912.5 1413.1 919.4 1414.3 926.2 1415.4C930.8 1416.2 935.3 1416.9 939.9 1417.7C944.5 1418.4 949 1419.1 953.6 1419.7C957.9 1420.4 962.1 1421 966.4 1421.6C970.7 1422.2 974.9 1422.7 979.2 1423.3C984.6 1424 990 1424.7 995.5 1425.3C1000.9 1425.9 1006.3 1426.6 1011.7 1427.2C1017.4 1427.8 1023.1 1428.4 1028.8 1429C1034.5 1429.5 1040.2 1430.1 1045.9 1430.6C1051.6 1431.1 1057.3 1431.6 1063 1432.1C1068.7 1432.5 1074.4 1433 1080.1 1433.4C1084.2 1433.7 1088.2 1434 1092.3 1434.3C1096.4 1434.6 1100.4 1434.8 1104.5 1435.1C1108.6 1435.4 1112.6 1435.6 1116.7 1435.9C1121.3 1436.1 1125.9 1436.4 1130.5 1436.6C1135 1436.9 1139.6 1437.1 1144.2 1437.4C1148.8 1437.6 1153.4 1437.8 1158 1438C1162.6 1438.2 1167.2 1438.4 1171.7 1438.6C1176.3 1438.8 1180.9 1439 1185.5 1439.2C1190.1 1439.4 1194.6 1439.5 1199.2 1439.7C1203.7 1439.9 1208.3 1440 1212.9 1440.2C1217.4 1440.3 1222 1440.5 1226.5 1440.6C1231.1 1440.8 1235.7 1440.9 1240.2 1441.1C1244.8 1441.2 1249.3 1441.3 1253.9 1441.4C1258.5 1441.6 1263 1441.7 1267.6 1441.8C1272.1 1441.9 1276.7 1442.1 1281.3 1442.2C1285.8 1442.3 1290.4 1442.4 1294.9 1442.5C1299.5 1442.6 1304.1 1442.8 1308.6 1442.9C1313.2 1443 1317.7 1443.1 1322.3 1443.2C1326.9 1443.3 1331.4 1443.4 1336 1443.5C1340.5 1443.6 1345.1 1443.7 1349.7 1443.8C1354.2 1443.8 1358.8 1443.9 1363.3 1444C1367.9 1444.1 1372.5 1444.2 1377 1444.3C1381.6 1444.3 1386.1 1444.4 1390.7 1444.5C1395.3 1444.6 1399.8 1444.6 1404.4 1444.7C1408.9 1444.8 1413.5 1444.8 1418.1 1444.9C1422.6 1445 1427.2 1445 1431.7 1445.1C1436.3 1445.1 1440.9 1445.2 1445.4 1445.2C1450 1445.3 1454.5 1445.3 1459.1 1445.4C1463.7 1445.4 1468.3 1445.5 1472.9 1445.5C1477.5 1445.6 1482.1 1445.6 1486.7 1445.6C1491.3 1445.7 1496 1445.7 1500.6 1445.7C1505.2 1445.8 1509.8 1445.8 1514.4 1445.8C1519 1445.8 1523.6 1445.9 1528.2 1445.9C1532.4 1445.9 1536.6 1445.9 1540.8 1445.9C1545.1 1445.9 1549.3 1445.9 1553.5 1445.9C1557.7 1445.9 1561.9 1446 1566.2 1446C1570.4 1446 1574.6 1446 1578.8 1446C1583.6 1445.9 1588.4 1445.9 1593.2 1445.9C1598 1445.9 1602.7 1445.9 1607.5 1445.9C1612.3 1445.9 1617.1 1445.9 1621.9 1445.8C1626.7 1445.8 1631.5 1445.8 1636.3 1445.8C1641.1 1445.7 1645.8 1445.7 1650.6 1445.7C1655.4 1445.6 1660.2 1445.6 1665 1445.5C1669.9 1445.5 1674.8 1445.4 1679.7 1445.4" fill="none" stroke="#a86400" stroke-width="11.2" stroke-linecap="round" stroke-linejoin="round"/>
<use href="#m-cross" x="155" y="1297.8" stroke="#a86400"/>
<use href="#m-cross" x="293.2" y="1310.8" stroke="#a86400"/>
<use href="#m-cross" x="430.4" y="1270.1" stroke="#a86400"/>
<use href="#m-cross" x="567.6" y="1366.9" stroke="#a86400"/>
<use href="#m-cross" x="704.8" y="1408.7" stroke="#a86400"/>
<use href="#m-cross" x="842" y="1409.3" stroke="#a86400"/>
<use href="#m-cross" x="979.2" y="1423.3" stroke="#a86400"/>
<use href="#m-cross" x="1116.4" y="1435.8" stroke="#a86400"/>
<use href="#m-cross" x="1253.6" y="1441.4" stroke="#a86400"/>
<use href="#m-cross" x="1390.8" y="1444.5" stroke="#a86400"/>
<use href="#m-cross" x="1528" y="1445.9" stroke="#a86400"/>
<use href="#m-cross" x="1665.2" y="1445.5" stroke="#a86400"/>
<use href="#m-cross" x="1679.5" y="1445.4" stroke="#a86400"/>
</g>
<g>
<path d="M156 1317C158.7 1319.7 161.5 1322.6 164.2 1325.1C167.8 1328.4 171.4 1331.3 175 1334C181.6 1338.9 188.3 1342.6 194.9 1345.8C196.6 1346.6 198.3 1347.4 200 1348.1C205.2 1350.3 210.3 1352.1 215.5 1353.5C219.6 1354.7 223.7 1355.6 227.8 1356.4C231.8 1357.1 235.9 1357.7 240 1358C244.5 1358.5 248.9 1358.6 253.4 1358.7C257.9 1358.7 262.3 1358.5 266.8 1358.2C270.7 1357.9 274.5 1357.5 278.4 1357C282.3 1356.5 286.1 1355.8 290 1355.1C291 1355 292 1354.8 293 1354.6C296.6 1353.9 300.2 1353.1 303.8 1352.2C307.4 1351.3 311 1350.4 314.6 1349.3C318.1 1348.3 321.5 1347.2 325 1346C328.4 1344.8 331.8 1343.6 335.2 1342.2C342 1339.5 348.9 1336.3 355.7 1333C357.1 1332.3 358.6 1331.7 360 1331C365.4 1328.4 370.8 1325.7 376.2 1323.2C381.9 1320.6 387.6 1318 393.3 1315.8C395.5 1315 397.8 1314.2 400 1313.4C403.5 1312.3 406.9 1311.3 410.4 1310.6C417 1309.2 423.6 1308.4 430.2 1309C434.2 1309.3 438.2 1309.9 442.2 1311.1C446.2 1312.2 450.2 1313.7 454.2 1315.6C459.9 1318.4 465.6 1322 471.3 1326.4C477 1330.7 482.7 1336.1 488.4 1341.6C494.1 1347.2 499.8 1353.5 505.5 1359.5C511.2 1365.5 516.9 1371.7 522.6 1377.6C528.3 1383.6 534 1389.5 539.7 1394.9C545.4 1400.3 551.1 1405.5 556.8 1410C560.3 1412.8 563.9 1415.5 567.4 1417.8C571.3 1420.5 575.2 1422.8 579.1 1424.9C583.1 1427 587 1428.7 590.9 1430.4C596.6 1432.9 602.3 1434.8 608 1436.8C613.7 1438.8 619.4 1440.4 625.1 1442.2C630.8 1444 636.5 1445.9 642.2 1447.7C647.9 1449.5 653.6 1451.4 659.3 1453.1C665 1454.8 670.7 1456.6 676.4 1458.1C681.1 1459.4 685.8 1460.6 690.5 1461.6C695.2 1462.7 699.9 1463.7 704.6 1464.4C709.9 1465.3 715.1 1466 720.4 1466.5C725.7 1467 730.9 1467.3 736.2 1467.5C741.6 1467.7 747 1467.8 752.5 1467.7C757.9 1467.6 763.3 1467.4 768.7 1467.1C773.3 1466.8 778 1466.5 782.6 1466.1C789.4 1465.5 796.3 1464.8 803.1 1464.1C809.9 1463.4 816.8 1462.6 823.6 1461.8C829.5 1461.2 835.5 1460.6 841.4 1460C845.3 1459.7 849.1 1459.4 853 1459.1C856.9 1458.9 860.7 1458.7 864.6 1458.6C871.5 1458.4 878.3 1458.4 885.2 1458.8C892 1459.1 898.9 1459.8 905.7 1460.7C912.5 1461.6 919.4 1462.7 926.2 1463.9C930.8 1464.7 935.3 1465.6 939.9 1466.4C944.5 1467.3 949 1468.1 953.6 1469C957.9 1469.8 962.1 1470.5 966.4 1471.3C970.7 1472 974.9 1472.7 979.2 1473.4C984.6 1474.3 990 1475.2 995.5 1476C1000.9 1476.8 1006.3 1477.6 1011.7 1478.3C1017.4 1479.1 1023.1 1479.9 1028.8 1480.6C1034.5 1481.4 1040.2 1482.1 1045.9 1482.7C1051.6 1483.4 1057.3 1484 1063 1484.7C1068.7 1485.3 1074.4 1485.9 1080.1 1486.4C1084.2 1486.8 1088.2 1487.2 1092.3 1487.6C1096.4 1487.9 1100.4 1488.3 1104.5 1488.6C1108.6 1489 1112.6 1489.3 1116.7 1489.7C1121.3 1490 1125.9 1490.4 1130.5 1490.7C1135 1491 1139.6 1491.4 1144.2 1491.7C1148.8 1492 1153.4 1492.3 1158 1492.6C1162.6 1492.9 1167.2 1493.1 1171.7 1493.4C1176.3 1493.7 1180.9 1493.9 1185.5 1494.2C1190.1 1494.4 1194.6 1494.6 1199.2 1494.9C1203.7 1495.1 1208.3 1495.3 1212.9 1495.5C1217.4 1495.7 1222 1495.9 1226.5 1496.1C1231.1 1496.3 1235.7 1496.5 1240.2 1496.7C1244.8 1496.8 1249.3 1497 1253.9 1497.2C1258.5 1497.4 1263 1497.5 1267.6 1497.7C1272.1 1497.8 1276.7 1498 1281.3 1498.1C1285.8 1498.3 1290.4 1498.4 1294.9 1498.6C1299.5 1498.7 1304.1 1498.9 1308.6 1499C1313.2 1499.1 1317.7 1499.3 1322.3 1499.4C1326.9 1499.5 1331.4 1499.6 1336 1499.7C1340.5 1499.9 1345.1 1500 1349.7 1500.1C1354.2 1500.2 1358.8 1500.3 1363.3 1500.4C1367.9 1500.5 1372.5 1500.6 1377 1500.7C1381.6 1500.8 1386.1 1500.8 1390.7 1500.9C1395.3 1501 1399.8 1501.1 1404.4 1501.2C1408.9 1501.2 1413.5 1501.3 1418.1 1501.4C1422.6 1501.5 1427.2 1501.5 1431.7 1501.6C1436.3 1501.7 1440.9 1501.7 1445.4 1501.8C1450 1501.8 1454.5 1501.9 1459.1 1501.9C1463.7 1502 1468.3 1502 1472.9 1502.1C1477.5 1502.1 1482.1 1502.2 1486.7 1502.2C1491.3 1502.3 1496 1502.3 1500.6 1502.3C1505.2 1502.4 1509.8 1502.4 1514.4 1502.4C1519 1502.5 1523.6 1502.5 1528.2 1502.5C1532.4 1502.5 1536.6 1502.6 1540.8 1502.6C1545.1 1502.6 1549.3 1502.6 1553.5 1502.7C1557.7 1502.7 1561.9 1502.7 1566.2 1502.7C1570.4 1502.7 1574.6 1502.7 1578.8 1502.7C1583.6 1502.8 1588.4 1502.8 1593.2 1502.8C1598 1502.8 1602.7 1502.8 1607.5 1502.8C1612.3 1502.8 1617.1 1502.8 1621.9 1502.8C1626.7 1502.8 1631.5 1502.8 1636.3 1502.8C1641.1 1502.8 1645.8 1502.8 1650.6 1502.8C1655.4 1502.8 1660.2 1502.8 1665 1502.8C1669.9 1502.8 1674.8 1502.8 1679.7 1502.8" fill="none" stroke="#00cc1e" stroke-width="11.2" stroke-linecap="round" stroke-linejoin="round"/>
<use href="#m-asterisk" x="155" y="1317" stroke="#00cc1e"/>
<use href="#m-asterisk" x="293.2" y="1354.5" stroke="#00cc1e"/>
<use href="#m-asterisk" x="430.4" y="1309" stroke="#00cc1e"/>
<use href="#m-asterisk" x="567.6" y="1418" stroke="#00cc1e"/>
<use href="#m-asterisk" x="704.8" y="1464.5" stroke="#00cc1e"/>
<use href="#m-asterisk" x="842" y="1460" stroke="#00cc1e"/>
<use href="#m-asterisk" x="979.2" y="1473.4" stroke="#00cc1e"/>
<use href="#m-asterisk" x="1116.4" y="1489.6" stroke="#00cc1e"/>
<use href="#m-asterisk" x="1253.6" y="1497.2" stroke="#00cc1e"/>
<use href="#m-asterisk" x="1390.8" y="1500.9" stroke="#00cc1e"/>
<use href="#m-asterisk" x="1528" y="1502.5" stroke="#00cc1e"/>
<use href="#m-asterisk" x="1665.2" y="1502.8" stroke="#00cc1e"/>
<use href="#m-asterisk" x="1679.5" y="1502.8" stroke="#00cc1e"/>
</g>
<g>
<path d="M156 1339.2C158.7 1341.7 161.5 1344.4 164.2 1346.6C167.8 1349.6 171.4 1352.1 175 1354.4C181.6 1358.7 188.3 1361.6 194.9 1364.4C199.9 1366.5 205 1368 210 1369.7C211.8 1370.3 213.7 1370.9 215.5 1371.4C219.5 1372.6 223.5 1373.8 227.4 1374.9C231.4 1376 235.4 1377 239.4 1377.8C246.3 1379.2 253.1 1380.4 260 1380.9C262.3 1381.1 264.5 1381.2 266.8 1381.2C272.5 1381.4 278.2 1381.1 283.9 1380.5C289.3 1379.9 294.6 1379 300 1377.8C303.6 1377.1 307.2 1376.2 310.8 1375.3C314.3 1374.3 317.9 1373.3 321.5 1372.2C328.3 1370.1 335.2 1367.7 342 1365.2C343 1364.9 344 1364.5 345 1364.1C350.8 1362 356.7 1359.7 362.5 1357.6C369.3 1355 376.2 1352.3 383 1350C388.7 1348 394.3 1346 400 1344.4C401.2 1344.1 402.4 1343.8 403.6 1343.5C410.4 1341.7 417.3 1340.4 424.1 1340.2C429.4 1340.1 434.7 1340.4 440 1341.5C444.7 1342.5 449.5 1344.1 454.2 1346.3C459.9 1348.8 465.6 1352.3 471.3 1356.4C477 1360.5 482.7 1365.4 488.4 1370.8C494.1 1376.2 499.8 1382.6 505.5 1388.9C511.2 1395.2 516.9 1402.1 522.6 1408.7C528.3 1415.2 534 1422 539.7 1428C545.4 1434 551.1 1439.8 556.8 1444.6C562.5 1449.5 568.1 1453.4 573.8 1457C579.5 1460.6 585.2 1463.4 590.9 1466C596.6 1468.7 602.3 1470.8 608 1473C613.7 1475.2 619.4 1477.2 625.1 1479.1C630.8 1481.1 636.5 1482.9 642.2 1484.6C647.9 1486.3 653.6 1487.8 659.3 1489.3C665 1490.8 670.7 1492.1 676.4 1493.3C680.7 1494.2 685 1495 689.2 1495.8C693.5 1496.5 697.8 1497.2 702.1 1497.8C707.8 1498.6 713.5 1499.3 719.2 1499.8C724.8 1500.3 730.5 1500.7 736.2 1500.9C741.6 1501.2 747 1501.3 752.5 1501.2C757.9 1501.1 763.3 1500.9 768.7 1500.6C773.3 1500.3 778 1499.9 782.6 1499.4C789.4 1498.7 796.3 1497.6 803.1 1496.6C809.9 1495.6 816.8 1494.4 823.6 1493.4C830.4 1492.5 837.3 1491.5 844.1 1490.9C850.9 1490.3 857.8 1489.8 864.6 1489.9C871.5 1489.9 878.3 1490.5 885.2 1491.2C892 1491.9 898.9 1493.1 905.7 1494.2C912.5 1495.3 919.4 1496.6 926.2 1497.9C930.8 1498.7 935.3 1499.5 939.9 1500.3C944.5 1501 949 1501.8 953.6 1502.5C957.9 1503.2 962.1 1503.9 966.4 1504.6C970.7 1505.2 974.9 1505.9 979.2 1506.5C984.6 1507.3 990 1508.1 995.5 1508.8C1000.9 1509.6 1006.3 1510.3 1011.7 1511C1017.4 1511.7 1023.1 1512.5 1028.8 1513.1C1034.5 1513.8 1040.2 1514.5 1045.9 1515.1C1051.6 1515.7 1057.3 1516.3 1063 1516.9C1068.7 1517.5 1074.4 1518.1 1080.1 1518.6C1084.2 1519 1088.2 1519.4 1092.3 1519.7C1096.4 1520.1 1100.4 1520.4 1104.5 1520.8C1108.6 1521.1 1112.6 1521.4 1116.7 1521.7C1121.3 1522.1 1125.9 1522.4 1130.5 1522.8C1135 1523.1 1139.6 1523.4 1144.2 1523.7C1148.8 1524 1153.4 1524.3 1158 1524.6C1162.6 1524.9 1167.2 1525.1 1171.7 1525.4C1176.3 1525.7 1180.9 1525.9 1185.5 1526.1C1190.1 1526.4 1194.6 1526.6 1199.2 1526.8C1203.7 1527 1208.3 1527.2 1212.9 1527.4C1217.4 1527.6 1222 1527.8 1226.5 1527.9C1231.1 1528.1 1235.7 1528.3 1240.2 1528.4C1244.8 1528.6 1249.3 1528.7 1253.9 1528.9C1258.7 1529 1263.4 1529.2 1268.2 1529.3C1272.9 1529.5 1277.7 1529.6 1282.4 1529.7C1287.2 1529.8 1291.9 1530 1296.7 1530.1C1301.4 1530.2 1306.2 1530.3 1310.9 1530.4C1315.7 1530.6 1320.4 1530.7 1325.2 1530.8C1329.9 1530.9 1334.7 1531 1339.4 1531.1C1344.3 1531.2 1349.2 1531.3 1354.1 1531.4C1358.9 1531.5 1363.8 1531.7 1368.7 1531.8C1373.6 1531.9 1378.5 1532 1383.4 1532.1C1388.3 1532.2 1393.1 1532.3 1398 1532.3C1402.9 1532.4 1407.8 1532.5 1412.7 1532.6C1417.6 1532.7 1422.5 1532.7 1427.3 1532.8C1432.2 1532.8 1437.1 1532.9 1442 1532.9C1446.6 1533 1451.1 1533 1455.7 1533C1460.2 1533 1464.8 1533.1 1469.4 1533.1C1473.9 1533.1 1478.5 1533 1483 1533C1487.6 1533 1492.2 1533 1496.7 1532.9C1501.3 1532.9 1505.8 1532.8 1510.4 1532.7C1515 1532.7 1519.5 1532.6 1524.1 1532.5C1528.6 1532.4 1533.2 1532.3 1537.8 1532.2C1542.3 1532.1 1546.9 1532 1551.4 1531.8C1556 1531.7 1560.6 1531.6 1565.1 1531.5C1569.7 1531.4 1574.2 1531.3 1578.8 1531.3C1583.4 1531.2 1587.9 1531.1 1592.5 1531.1C1597 1531 1601.6 1531 1606.2 1531C1610.7 1531 1615.3 1531 1619.8 1531C1624.4 1531 1629 1531.1 1633.5 1531.2C1638.1 1531.3 1642.6 1531.5 1647.2 1531.6C1652.6 1531.8 1658 1532.1 1663.5 1532.4C1668.9 1532.8 1674.3 1533.2 1679.7 1533.6" fill="none" stroke="#dc1e7d" stroke-width="11.2" stroke-linecap="round" stroke-linejoin="round"/>
<use href="#m-hline" x="155" y="1339.2" stroke="#dc1e7d"/>
<use href="#m-hline" x="293.2" y="1379.1" stroke="#dc1e7d"/>
<use href="#m-hline" x="430.4" y="1340.3" stroke="#dc1e7d"/>
<use href="#m-hline" x="567.6" y="1452.9" stroke="#dc1e7d"/>
<use href="#m-hline" x="704.8" y="1498.2" stroke="#dc1e7d"/>
<use href="#m-hline" x="842" y="1491.1" stroke="#dc1e7d"/>
<use href="#m-hline" x="979.2" y="1506.5" stroke="#dc1e7d"/>
<use href="#m-hline" x="1116.4" y="1521.7" stroke="#dc1e7d"/>
<use href="#m-hline" x="1253.6" y="1528.9" stroke="#dc1e7d"/>
<use href="#m-hline" x="1390.8" y="1532.2" stroke="#dc1e7d"/>
<use href="#m-hline" x="1528" y="1532.4" stroke="#dc1e7d"/>
<use href="#m-hline" x="1665.2" y="1532.5" stroke="#dc1e7d"/>
<use href="#m-hline" x="1679.5" y="1533.6" stroke="#dc1e7d"/>
</g>
</g>
<g font-size="81" text-anchor="middle">
<text transform="translate(153 1659.3) scale(0.957 1)">10</text>
<text transform="translate(371 1659.3) scale(0.957 1)">20</text>
<text transform="translate(589 1659.3) scale(0.957 1)">30</text>
<text transform="translate(807 1659.3) scale(0.957 1)">40</text>
<text transform="translate(1025 1659.3) scale(0.957 1)">50</text>
<text transform="translate(1243 1659.3) scale(0.957 1)">60</text>
<text transform="translate(1461 1659.3) scale(0.957 1)">70</text>
<text transform="translate(1679 1659.3) scale(0.957 1)">80</text>
<text transform="translate(1897 1659.3) scale(0.957 1)">90</text>
</g>
<text transform="translate(945 1759) scale(0.957 1)" font-size="80">2<tspan dx="3.07" dy="1.7">-</tspan><tspan dx="-1.5" dy="-1.7">θ</tspan> <tspan font-size="75" dx="-0.07">(</tspan><tspan dx="3.1">°</tspan><tspan font-size="75" dx="2.5">)</tspan></text>
<text transform="translate(89.7 770) rotate(-90) scale(0.9875 1)" font-size="78.5" text-anchor="middle">Intensity (a.u.)</text>
<g font-size="58">
<path d="M1706.7 113.4H1801.6" stroke="#000000" stroke-width="11.3" stroke-linecap="round" fill="none"/>
<use href="#m-square" x="1754" y="113.4" fill="#000000"/>
<text transform="translate(1817.5 127.9) scale(0.968 1)">C18-0</text>
<path d="M1706.7 185.2H1801.6" stroke="#ff0000" stroke-width="11.3" stroke-linecap="round" fill="none"/>
<use href="#m-circle" x="1754" y="185.2" fill="#ff0000"/>
<text transform="translate(1817.5 199.7) scale(0.968 1)">C18-10</text>
<path d="M1706.7 261.1H1801.6" stroke="#0000ff" stroke-width="11.3" stroke-linecap="round" fill="none"/>
<use href="#m-tri_up" x="1754" y="261.1" fill="#0000ff"/>
<text transform="translate(1817.5 275.6) scale(0.968 1)">C18-15</text>
<path d="M1706.7 337.7H1801.6" stroke="#ff00ff" stroke-width="11.3" stroke-linecap="round" fill="none"/>
<use href="#m-tri_down" x="1754" y="337.7" fill="#ff00ff"/>
<text transform="translate(1817.5 352.2) scale(0.968 1)">C18-20</text>
<path d="M1706.7 414.8H1801.6" stroke="#008000" stroke-width="11.3" stroke-linecap="round" fill="none"/>
<use href="#m-diamond" x="1754" y="414.8" fill="#008000"/>
<text transform="translate(1817.5 429.3) scale(0.968 1)">C18-25</text>
<path d="M1706.7 492.2H1801.6" stroke="#000080" stroke-width="11.3" stroke-linecap="round" fill="none"/>
<use href="#m-tri_left" x="1754" y="492.2" fill="#000080"/>
<text transform="translate(1817.5 506.7) scale(0.968 1)">C21-0</text>
<path d="M1706.7 569.4H1801.6" stroke="#8000ff" stroke-width="11.3" stroke-linecap="round" fill="none"/>
<use href="#m-tri_right" x="1754" y="569.4" fill="#8000ff"/>
<text transform="translate(1817.5 583.9) scale(0.968 1)">C21-10</text>
<path d="M1706.7 645.6H1801.6" stroke="#960082" stroke-width="11.3" stroke-linecap="round" fill="none"/>
<use href="#m-hexagon" x="1754" y="645.6" fill="#960082"/>
<text transform="translate(1817.5 660.1) scale(0.968 1)">C21-15</text>
<path d="M1706.7 722.7H1801.6" stroke="#960000" stroke-width="11.3" stroke-linecap="round" fill="none"/>
<use href="#m-star" x="1754" y="722.7" fill="#960000"/>
<text transform="translate(1817.5 737.2) scale(0.968 1)">C21-20</text>
<path d="M1706.7 799.9H1801.6" stroke="#808000" stroke-width="11.3" stroke-linecap="round" fill="none"/>
<use href="#m-pentagon" x="1754" y="799.9" fill="#808000"/>
<text transform="translate(1817.5 814.4) scale(0.968 1)">C21-25</text>
<path d="M1706.7 877H1801.6" stroke="#0060a8" stroke-width="11.3" stroke-linecap="round" fill="none"/>
<use href="#m-sphere" x="1754" y="877"/>
<text transform="translate(1817.5 891.5) scale(0.968 1)">C24-0</text>
<path d="M1706.7 953.5H1801.6" stroke="#009999" stroke-width="11.3" stroke-linecap="round" fill="none"/>
<use href="#m-plus" x="1754" y="953.5" stroke="#009999"/>
<text transform="translate(1817.5 968) scale(0.968 1)">C24-10</text>
<path d="M1706.7 1030.5H1801.6" stroke="#a86400" stroke-width="11.3" stroke-linecap="round" fill="none"/>
<use href="#m-cross" x="1754" y="1030.5" stroke="#a86400"/>
<text transform="translate(1817.5 1045) scale(0.968 1)">C24-15</text>
<path d="M1706.7 1107.5H1801.6" stroke="#00cc1e" stroke-width="11.3" stroke-linecap="round" fill="none"/>
<use href="#m-asterisk" x="1754" y="1107.5" stroke="#00cc1e"/>
<text transform="translate(1817.5 1122) scale(0.968 1)">C24-20</text>
<path d="M1706.7 1184.9H1801.6" stroke="#dc1e7d" stroke-width="11.3" stroke-linecap="round" fill="none"/>
<use href="#m-hline" x="1754" y="1184.9" stroke="#dc1e7d"/>
<text transform="translate(1817.5 1199.4) scale(0.968 1)">C24-25</text>
</g>
</svg>
</body></html>
